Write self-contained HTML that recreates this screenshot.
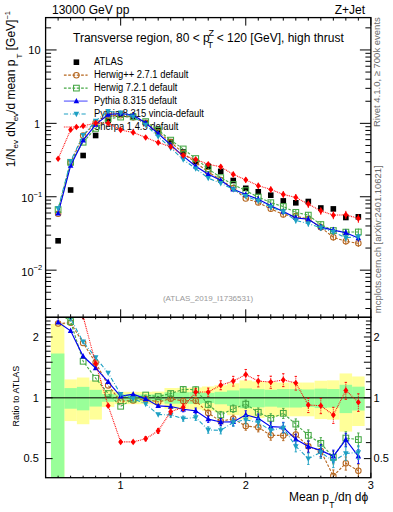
<!DOCTYPE html><html><head><meta charset="utf-8"><style>html,body{margin:0;padding:0;background:#fff;}svg{display:block;} text{font-family:"Liberation Sans",sans-serif;}</style></head><body>
<svg width="393" height="512" viewBox="0 0 393 512">
<rect x="0" y="0" width="393" height="512" fill="#fff"/>
<text x="52.00" y="13.70" font-size="12" text-anchor="start" fill="#000" >13000 GeV pp</text>
<text x="365.00" y="13.70" font-size="12" text-anchor="end" fill="#000" >Z+Jet</text>
<text x="40.60" y="54.20" font-size="11" text-anchor="end" fill="#000" >10</text>
<text x="39.90" y="127.80" font-size="10.2" text-anchor="end" fill="#000" >1</text>
<text x="33.60" y="202.10" font-size="11" text-anchor="end" fill="#000" >10</text>
<text x="33.60" y="196.60" font-size="7.5" text-anchor="start" fill="#000" >−1</text>
<text x="33.60" y="275.50" font-size="11" text-anchor="end" fill="#000" >10</text>
<text x="33.60" y="270.10" font-size="7.5" text-anchor="start" fill="#000" >−2</text>
<text x="38.80" y="340.60" font-size="11" text-anchor="end" fill="#000" >2</text>
<text x="373.60" y="340.60" font-size="11" text-anchor="start" fill="#000" >2</text>
<text x="38.80" y="401.80" font-size="11" text-anchor="end" fill="#000" >1</text>
<text x="373.60" y="401.80" font-size="11" text-anchor="start" fill="#000" >1</text>
<text x="38.80" y="462.20" font-size="11" text-anchor="end" fill="#000" >0.5</text>
<text x="373.60" y="462.20" font-size="11" text-anchor="start" fill="#000" >0.5</text>
<text x="120.66" y="489.00" font-size="11" text-anchor="middle" fill="#000" >1</text>
<text x="245.76" y="489.00" font-size="11" text-anchor="middle" fill="#000" >2</text>
<text x="370.86" y="489.00" font-size="11" text-anchor="middle" fill="#000" >3</text>
<defs><clipPath id="cm"><rect x="45.6" y="17.6" width="325.3" height="299.7"/></clipPath><clipPath id="cr"><rect x="45.6" y="317.3" width="325.3" height="160.4"/></clipPath></defs>
<g clip-path="url(#cr)"><rect x="50.98" y="323.97" width="13.39" height="155.73" fill="#ffff99"/><rect x="64.36" y="379.43" width="12.51" height="41.65" fill="#ffff99"/><rect x="76.87" y="377.53" width="12.51" height="46.69" fill="#ffff99"/><rect x="89.38" y="380.36" width="12.51" height="39.24" fill="#ffff99"/><rect x="101.89" y="389.44" width="12.51" height="17.60" fill="#ffff99"/><rect x="114.41" y="391.86" width="12.51" height="12.30" fill="#ffff99"/><rect x="126.91" y="391.86" width="12.51" height="12.30" fill="#ffff99"/><rect x="139.42" y="391.86" width="12.51" height="12.30" fill="#ffff99"/><rect x="151.94" y="391.54" width="12.51" height="13.01" fill="#ffff99"/><rect x="164.44" y="388.01" width="12.51" height="20.80" fill="#ffff99"/><rect x="176.95" y="387.86" width="12.51" height="21.16" fill="#ffff99"/><rect x="189.46" y="387.47" width="12.51" height="22.05" fill="#ffff99"/><rect x="201.97" y="386.46" width="12.51" height="24.37" fill="#ffff99"/><rect x="214.48" y="385.31" width="12.51" height="27.06" fill="#ffff99"/><rect x="226.99" y="383.28" width="12.51" height="31.93" fill="#ffff99"/><rect x="239.50" y="380.36" width="12.51" height="39.24" fill="#ffff99"/><rect x="252.02" y="381.44" width="12.51" height="36.49" fill="#ffff99"/><rect x="264.53" y="382.10" width="12.51" height="34.84" fill="#ffff99"/><rect x="277.04" y="382.54" width="12.51" height="33.75" fill="#ffff99"/><rect x="289.55" y="382.54" width="12.51" height="33.75" fill="#ffff99"/><rect x="302.06" y="382.54" width="12.51" height="33.75" fill="#ffff99"/><rect x="314.57" y="380.72" width="12.51" height="38.32" fill="#ffff99"/><rect x="327.08" y="380.36" width="12.51" height="39.24" fill="#ffff99"/><rect x="339.59" y="373.44" width="12.51" height="58.19" fill="#ffff99"/><rect x="352.10" y="376.49" width="12.51" height="49.52" fill="#ffff99"/><rect x="50.98" y="353.50" width="13.39" height="138.17" fill="#99ff99"/><rect x="64.36" y="388.09" width="12.51" height="20.62" fill="#99ff99"/><rect x="76.87" y="386.85" width="12.51" height="23.47" fill="#99ff99"/><rect x="89.38" y="389.84" width="12.51" height="16.72" fill="#99ff99"/><rect x="101.89" y="394.02" width="12.51" height="7.73" fill="#99ff99"/><rect x="114.41" y="394.53" width="12.51" height="6.67" fill="#99ff99"/><rect x="126.91" y="394.53" width="12.51" height="6.67" fill="#99ff99"/><rect x="139.42" y="394.53" width="12.51" height="6.67" fill="#99ff99"/><rect x="151.94" y="394.36" width="12.51" height="7.02" fill="#99ff99"/><rect x="164.44" y="392.28" width="12.51" height="11.42" fill="#99ff99"/><rect x="176.95" y="392.28" width="12.51" height="11.42" fill="#99ff99"/><rect x="189.46" y="392.11" width="12.51" height="11.77" fill="#99ff99"/><rect x="201.97" y="392.85" width="12.51" height="10.19" fill="#99ff99"/><rect x="214.48" y="391.78" width="12.51" height="12.48" fill="#99ff99"/><rect x="226.99" y="390.40" width="12.51" height="15.48" fill="#99ff99"/><rect x="239.50" y="388.41" width="12.51" height="19.91" fill="#99ff99"/><rect x="252.02" y="389.20" width="12.51" height="18.14" fill="#99ff99"/><rect x="264.53" y="389.76" width="12.51" height="16.90" fill="#99ff99"/><rect x="277.04" y="389.04" width="12.51" height="18.49" fill="#99ff99"/><rect x="289.55" y="389.04" width="12.51" height="18.49" fill="#99ff99"/><rect x="302.06" y="389.44" width="12.51" height="17.60" fill="#99ff99"/><rect x="314.57" y="388.64" width="12.51" height="19.38" fill="#99ff99"/><rect x="327.08" y="389.04" width="12.51" height="18.49" fill="#99ff99"/><rect x="339.59" y="384.78" width="12.51" height="28.32" fill="#99ff99"/><rect x="352.10" y="386.69" width="12.51" height="23.83" fill="#99ff99"/></g>
<line x1="45.6" y1="397.80" x2="370.9" y2="397.80" stroke="#000" stroke-opacity="0.7" stroke-width="1.4"/>
<text x="94" y="64.80" font-size="10" textLength="29.02" lengthAdjust="spacingAndGlyphs">ATLAS</text>
<text x="94" y="77.76" font-size="10" textLength="94.34" lengthAdjust="spacingAndGlyphs">Herwig++ 2.7.1 default</text>
<text x="94" y="90.72" font-size="10" textLength="83.39" lengthAdjust="spacingAndGlyphs">Herwig 7.2.1 default</text>
<text x="94" y="103.68" font-size="10" textLength="82.88" lengthAdjust="spacingAndGlyphs">Pythia 8.315 default</text>
<text x="94" y="116.64" font-size="10" textLength="109.97" lengthAdjust="spacingAndGlyphs">Pythia 8.315 vincia-default</text>
<text x="94" y="129.60" font-size="10" textLength="84.45" lengthAdjust="spacingAndGlyphs">Sherpa 1.4.5 default</text>
<rect x="73.60" y="59.40" width="5.6" height="5.6" fill="#000"/>
<line x1="63.9" y1="75.16" x2="87.6" y2="75.16" stroke="#b5651d" stroke-dasharray="2.7,1.6" stroke-width="1.1"/>
<circle cx="76.40" cy="75.16" r="2.75" fill="none" stroke="#b5651d" stroke-width="1.05"/>
<line x1="63.9" y1="88.12" x2="87.6" y2="88.12" stroke="#45a845" stroke-dasharray="2.7,1.6" stroke-width="1.1"/>
<rect x="73.55" y="85.27" width="5.7" height="5.7" fill="none" stroke="#45a845" stroke-width="1.05"/>
<line x1="63.9" y1="101.08" x2="87.6" y2="101.08" stroke="#5a5aff" stroke-width="1.15"/>
<path d="M76.40,97.88L79.20,103.28L73.60,103.28Z" fill="#0000f0"/>
<line x1="63.9" y1="114.04" x2="87.6" y2="114.04" stroke="#1ea0c3" stroke-dasharray="4.2,1.9,0.8,1.9" stroke-width="1.1"/>
<path d="M76.40,117.24L79.20,111.84L73.60,111.84Z" fill="#1ea0c3"/>
<line x1="63.9" y1="127.00" x2="87.6" y2="127.00" stroke="#ff0000" stroke-dasharray="0.9,0.9" stroke-width="1.1"/>
<path d="M76.40,123.70L78.90,127.00L76.40,130.30L73.90,127.00Z" fill="#ff0000"/>
<g clip-path="url(#cm)"><rect x="55.31" y="238.00" width="5.6" height="5.6" fill="#000"/><rect x="67.82" y="187.20" width="5.6" height="5.6" fill="#000"/><rect x="80.33" y="152.70" width="5.6" height="5.6" fill="#000"/><rect x="92.84" y="132.70" width="5.6" height="5.6" fill="#000"/><rect x="105.35" y="117.50" width="5.6" height="5.6" fill="#000"/><rect x="117.86" y="111.20" width="5.6" height="5.6" fill="#000"/><rect x="130.37" y="113.60" width="5.6" height="5.6" fill="#000"/><rect x="142.88" y="119.80" width="5.6" height="5.6" fill="#000"/><rect x="155.39" y="127.80" width="5.6" height="5.6" fill="#000"/><rect x="167.90" y="138.90" width="5.6" height="5.6" fill="#000"/><rect x="180.41" y="149.20" width="5.6" height="5.6" fill="#000"/><rect x="192.92" y="158.70" width="5.6" height="5.6" fill="#000"/><rect x="205.43" y="163.60" width="5.6" height="5.6" fill="#000"/><rect x="217.94" y="168.60" width="5.6" height="5.6" fill="#000"/><rect x="230.45" y="177.70" width="5.6" height="5.6" fill="#000"/><rect x="242.96" y="185.50" width="5.6" height="5.6" fill="#000"/><rect x="255.47" y="189.00" width="5.6" height="5.6" fill="#000"/><rect x="267.98" y="192.40" width="5.6" height="5.6" fill="#000"/><rect x="280.49" y="198.10" width="5.6" height="5.6" fill="#000"/><rect x="293.00" y="200.00" width="5.6" height="5.6" fill="#000"/><rect x="305.51" y="198.70" width="5.6" height="5.6" fill="#000"/><rect x="318.02" y="205.20" width="5.6" height="5.6" fill="#000"/><rect x="330.53" y="206.10" width="5.6" height="5.6" fill="#000"/><rect x="343.04" y="214.70" width="5.6" height="5.6" fill="#000"/><rect x="355.55" y="214.00" width="5.6" height="5.6" fill="#000"/><polyline points="58.11,213.84 70.62,162.76 83.13,135.58 95.64,122.72 108.15,115.79 120.66,115.27 133.17,117.37 145.68,123.08 158.19,132.13 170.70,142.02 183.21,153.14 195.72,162.54 208.23,171.96 220.74,179.94 233.25,188.14 245.76,198.55 258.27,202.54 270.78,208.83 283.29,214.58 295.80,216.14 308.31,219.14 320.82,227.35 333.33,237.32 345.84,241.30 358.35,243.33" fill="none" stroke="#b5651d" stroke-dasharray="2.7,1.6" stroke-width="1.1"/><circle cx="58.11" cy="213.84" r="2.75" fill="none" stroke="#b5651d" stroke-width="1.05"/><circle cx="70.62" cy="162.76" r="2.75" fill="none" stroke="#b5651d" stroke-width="1.05"/><circle cx="83.13" cy="135.58" r="2.75" fill="none" stroke="#b5651d" stroke-width="1.05"/><circle cx="95.64" cy="122.72" r="2.75" fill="none" stroke="#b5651d" stroke-width="1.05"/><circle cx="108.15" cy="115.79" r="2.75" fill="none" stroke="#b5651d" stroke-width="1.05"/><circle cx="120.66" cy="115.27" r="2.75" fill="none" stroke="#b5651d" stroke-width="1.05"/><circle cx="133.17" cy="117.37" r="2.75" fill="none" stroke="#b5651d" stroke-width="1.05"/><circle cx="145.68" cy="123.08" r="2.75" fill="none" stroke="#b5651d" stroke-width="1.05"/><circle cx="158.19" cy="132.13" r="2.75" fill="none" stroke="#b5651d" stroke-width="1.05"/><circle cx="170.70" cy="142.02" r="2.75" fill="none" stroke="#b5651d" stroke-width="1.05"/><circle cx="183.21" cy="153.14" r="2.75" fill="none" stroke="#b5651d" stroke-width="1.05"/><circle cx="195.72" cy="162.54" r="2.75" fill="none" stroke="#b5651d" stroke-width="1.05"/><circle cx="208.23" cy="171.96" r="2.75" fill="none" stroke="#b5651d" stroke-width="1.05"/><circle cx="220.74" cy="179.94" r="2.75" fill="none" stroke="#b5651d" stroke-width="1.05"/><circle cx="233.25" cy="188.14" r="2.75" fill="none" stroke="#b5651d" stroke-width="1.05"/><circle cx="245.76" cy="198.55" r="2.75" fill="none" stroke="#b5651d" stroke-width="1.05"/><line x1="258.27" y1="199.97" x2="258.27" y2="205.19" stroke="#b5651d" stroke-width="1"/><circle cx="258.27" cy="202.54" r="2.75" fill="none" stroke="#b5651d" stroke-width="1.05"/><line x1="270.78" y1="206.16" x2="270.78" y2="211.60" stroke="#b5651d" stroke-width="1"/><circle cx="270.78" cy="208.83" r="2.75" fill="none" stroke="#b5651d" stroke-width="1.05"/><line x1="283.29" y1="211.80" x2="283.29" y2="217.47" stroke="#b5651d" stroke-width="1"/><circle cx="283.29" cy="214.58" r="2.75" fill="none" stroke="#b5651d" stroke-width="1.05"/><line x1="295.80" y1="213.25" x2="295.80" y2="219.15" stroke="#b5651d" stroke-width="1"/><circle cx="295.80" cy="216.14" r="2.75" fill="none" stroke="#b5651d" stroke-width="1.05"/><line x1="308.31" y1="216.15" x2="308.31" y2="222.27" stroke="#b5651d" stroke-width="1"/><circle cx="308.31" cy="219.14" r="2.75" fill="none" stroke="#b5651d" stroke-width="1.05"/><line x1="320.82" y1="224.25" x2="320.82" y2="230.59" stroke="#b5651d" stroke-width="1"/><circle cx="320.82" cy="227.35" r="2.75" fill="none" stroke="#b5651d" stroke-width="1.05"/><line x1="333.33" y1="234.12" x2="333.33" y2="240.69" stroke="#b5651d" stroke-width="1"/><circle cx="333.33" cy="237.32" r="2.75" fill="none" stroke="#b5651d" stroke-width="1.05"/><line x1="345.84" y1="237.99" x2="345.84" y2="244.78" stroke="#b5651d" stroke-width="1"/><circle cx="345.84" cy="241.30" r="2.75" fill="none" stroke="#b5651d" stroke-width="1.05"/><line x1="358.35" y1="239.93" x2="358.35" y2="246.94" stroke="#b5651d" stroke-width="1"/><circle cx="358.35" cy="243.33" r="2.75" fill="none" stroke="#b5651d" stroke-width="1.05"/><polyline points="58.11,209.61 70.62,162.29 83.13,142.24 95.64,128.39 108.15,118.74 120.66,117.08 133.17,116.88 145.68,121.60 158.19,130.16 170.70,140.14 183.21,148.96 195.72,158.55 208.23,168.82 220.74,177.61 233.25,184.47 245.76,190.61 258.27,197.06 270.78,202.67 283.29,206.53 295.80,212.36 308.31,215.13 320.82,224.55 333.33,230.55 345.84,232.13 358.35,231.99" fill="none" stroke="#45a845" stroke-dasharray="2.7,1.6" stroke-width="1.1"/><rect x="55.26" y="206.76" width="5.7" height="5.7" fill="none" stroke="#45a845" stroke-width="1.05"/><rect x="67.77" y="159.44" width="5.7" height="5.7" fill="none" stroke="#45a845" stroke-width="1.05"/><rect x="80.28" y="139.39" width="5.7" height="5.7" fill="none" stroke="#45a845" stroke-width="1.05"/><rect x="92.79" y="125.54" width="5.7" height="5.7" fill="none" stroke="#45a845" stroke-width="1.05"/><rect x="105.30" y="115.89" width="5.7" height="5.7" fill="none" stroke="#45a845" stroke-width="1.05"/><rect x="117.81" y="114.23" width="5.7" height="5.7" fill="none" stroke="#45a845" stroke-width="1.05"/><rect x="130.32" y="114.03" width="5.7" height="5.7" fill="none" stroke="#45a845" stroke-width="1.05"/><rect x="142.83" y="118.75" width="5.7" height="5.7" fill="none" stroke="#45a845" stroke-width="1.05"/><rect x="155.34" y="127.31" width="5.7" height="5.7" fill="none" stroke="#45a845" stroke-width="1.05"/><rect x="167.85" y="137.29" width="5.7" height="5.7" fill="none" stroke="#45a845" stroke-width="1.05"/><rect x="180.36" y="146.11" width="5.7" height="5.7" fill="none" stroke="#45a845" stroke-width="1.05"/><rect x="192.87" y="155.70" width="5.7" height="5.7" fill="none" stroke="#45a845" stroke-width="1.05"/><rect x="205.38" y="165.97" width="5.7" height="5.7" fill="none" stroke="#45a845" stroke-width="1.05"/><rect x="217.89" y="174.76" width="5.7" height="5.7" fill="none" stroke="#45a845" stroke-width="1.05"/><rect x="230.40" y="181.62" width="5.7" height="5.7" fill="none" stroke="#45a845" stroke-width="1.05"/><rect x="242.91" y="187.76" width="5.7" height="5.7" fill="none" stroke="#45a845" stroke-width="1.05"/><line x1="258.27" y1="194.49" x2="258.27" y2="199.71" stroke="#45a845" stroke-width="1"/><rect x="255.42" y="194.21" width="5.7" height="5.7" fill="none" stroke="#45a845" stroke-width="1.05"/><line x1="270.78" y1="200.00" x2="270.78" y2="205.44" stroke="#45a845" stroke-width="1"/><rect x="267.93" y="199.82" width="5.7" height="5.7" fill="none" stroke="#45a845" stroke-width="1.05"/><line x1="283.29" y1="203.75" x2="283.29" y2="209.42" stroke="#45a845" stroke-width="1"/><rect x="280.44" y="203.68" width="5.7" height="5.7" fill="none" stroke="#45a845" stroke-width="1.05"/><line x1="295.80" y1="209.47" x2="295.80" y2="215.36" stroke="#45a845" stroke-width="1"/><rect x="292.95" y="209.51" width="5.7" height="5.7" fill="none" stroke="#45a845" stroke-width="1.05"/><line x1="308.31" y1="212.14" x2="308.31" y2="218.26" stroke="#45a845" stroke-width="1"/><rect x="305.46" y="212.28" width="5.7" height="5.7" fill="none" stroke="#45a845" stroke-width="1.05"/><line x1="320.82" y1="221.45" x2="320.82" y2="227.80" stroke="#45a845" stroke-width="1"/><rect x="317.97" y="221.70" width="5.7" height="5.7" fill="none" stroke="#45a845" stroke-width="1.05"/><line x1="333.33" y1="227.35" x2="333.33" y2="233.92" stroke="#45a845" stroke-width="1"/><rect x="330.48" y="227.70" width="5.7" height="5.7" fill="none" stroke="#45a845" stroke-width="1.05"/><line x1="345.84" y1="228.82" x2="345.84" y2="235.61" stroke="#45a845" stroke-width="1"/><rect x="342.99" y="229.28" width="5.7" height="5.7" fill="none" stroke="#45a845" stroke-width="1.05"/><line x1="358.35" y1="228.58" x2="358.35" y2="235.59" stroke="#45a845" stroke-width="1"/><rect x="355.50" y="229.14" width="5.7" height="5.7" fill="none" stroke="#45a845" stroke-width="1.05"/><polyline points="58.11,213.36 70.62,165.66 83.13,140.42 95.64,124.66 108.15,114.49 120.66,113.46 133.17,115.09 145.68,122.98 158.19,133.54 170.70,144.88 183.21,156.15 195.72,166.23 208.23,174.16 220.74,180.19 233.25,189.25 245.76,194.47 258.27,199.23 270.78,205.67 283.29,211.59 295.80,217.88 308.31,219.20 320.82,227.12 333.33,230.12 345.84,232.69 358.35,238.08" fill="none" stroke="#0000f0" stroke-width="1.15"/><path d="M58.11,210.16L60.91,215.56L55.31,215.56Z" fill="#0000f0"/><path d="M70.62,162.46L73.42,167.86L67.82,167.86Z" fill="#0000f0"/><path d="M83.13,137.22L85.93,142.62L80.33,142.62Z" fill="#0000f0"/><path d="M95.64,121.46L98.44,126.86L92.84,126.86Z" fill="#0000f0"/><path d="M108.15,111.29L110.95,116.69L105.35,116.69Z" fill="#0000f0"/><path d="M120.66,110.26L123.46,115.66L117.86,115.66Z" fill="#0000f0"/><path d="M133.17,111.89L135.97,117.29L130.37,117.29Z" fill="#0000f0"/><path d="M145.68,119.78L148.48,125.18L142.88,125.18Z" fill="#0000f0"/><path d="M158.19,130.34L160.99,135.74L155.39,135.74Z" fill="#0000f0"/><path d="M170.70,141.68L173.50,147.08L167.90,147.08Z" fill="#0000f0"/><path d="M183.21,152.95L186.01,158.35L180.41,158.35Z" fill="#0000f0"/><path d="M195.72,163.03L198.52,168.43L192.92,168.43Z" fill="#0000f0"/><path d="M208.23,170.96L211.03,176.36L205.43,176.36Z" fill="#0000f0"/><path d="M220.74,176.99L223.54,182.39L217.94,182.39Z" fill="#0000f0"/><path d="M233.25,186.05L236.05,191.45L230.45,191.45Z" fill="#0000f0"/><path d="M245.76,191.27L248.56,196.67L242.96,196.67Z" fill="#0000f0"/><line x1="258.27" y1="196.66" x2="258.27" y2="201.89" stroke="#0000f0" stroke-width="1"/><path d="M258.27,196.03L261.07,201.43L255.47,201.43Z" fill="#0000f0"/><line x1="270.78" y1="203.00" x2="270.78" y2="208.44" stroke="#0000f0" stroke-width="1"/><path d="M270.78,202.47L273.58,207.87L267.98,207.87Z" fill="#0000f0"/><line x1="283.29" y1="208.81" x2="283.29" y2="214.48" stroke="#0000f0" stroke-width="1"/><path d="M283.29,208.39L286.09,213.79L280.49,213.79Z" fill="#0000f0"/><line x1="295.80" y1="215.00" x2="295.80" y2="220.89" stroke="#0000f0" stroke-width="1"/><path d="M295.80,214.68L298.60,220.08L293.00,220.08Z" fill="#0000f0"/><line x1="308.31" y1="216.20" x2="308.31" y2="222.32" stroke="#0000f0" stroke-width="1"/><path d="M308.31,216.00L311.11,221.40L305.51,221.40Z" fill="#0000f0"/><line x1="320.82" y1="224.02" x2="320.82" y2="230.36" stroke="#0000f0" stroke-width="1"/><path d="M320.82,223.92L323.62,229.32L318.02,229.32Z" fill="#0000f0"/><line x1="333.33" y1="226.91" x2="333.33" y2="233.48" stroke="#0000f0" stroke-width="1"/><path d="M333.33,226.92L336.13,232.32L330.53,232.32Z" fill="#0000f0"/><line x1="345.84" y1="229.38" x2="345.84" y2="236.17" stroke="#0000f0" stroke-width="1"/><path d="M345.84,229.49L348.64,234.89L343.04,234.89Z" fill="#0000f0"/><line x1="358.35" y1="234.67" x2="358.35" y2="241.68" stroke="#0000f0" stroke-width="1"/><path d="M358.35,234.88L361.15,240.28L355.55,240.28Z" fill="#0000f0"/><polyline points="58.11,208.55 70.62,161.18 83.13,135.16 95.64,120.88 108.15,111.26 120.66,112.69 133.17,116.72 145.68,124.88 158.19,136.66 170.70,147.95 183.21,159.55 195.72,168.65 208.23,178.09 220.74,183.23 233.25,189.46 245.76,196.26 258.27,200.80 270.78,207.03 283.29,211.82 295.80,220.44 308.31,223.60 320.82,227.82 333.33,231.90 345.84,237.74 358.35,236.62" fill="none" stroke="#1ea0c3" stroke-dasharray="4.2,1.9,0.8,1.9" stroke-width="1.1"/><path d="M58.11,211.75L60.91,206.35L55.31,206.35Z" fill="#1ea0c3"/><path d="M70.62,164.38L73.42,158.98L67.82,158.98Z" fill="#1ea0c3"/><path d="M83.13,138.36L85.93,132.96L80.33,132.96Z" fill="#1ea0c3"/><path d="M95.64,124.08L98.44,118.68L92.84,118.68Z" fill="#1ea0c3"/><path d="M108.15,114.46L110.95,109.06L105.35,109.06Z" fill="#1ea0c3"/><path d="M120.66,115.89L123.46,110.49L117.86,110.49Z" fill="#1ea0c3"/><path d="M133.17,119.92L135.97,114.52L130.37,114.52Z" fill="#1ea0c3"/><path d="M145.68,128.08L148.48,122.68L142.88,122.68Z" fill="#1ea0c3"/><path d="M158.19,139.86L160.99,134.46L155.39,134.46Z" fill="#1ea0c3"/><path d="M170.70,151.15L173.50,145.75L167.90,145.75Z" fill="#1ea0c3"/><path d="M183.21,162.75L186.01,157.35L180.41,157.35Z" fill="#1ea0c3"/><path d="M195.72,171.85L198.52,166.45L192.92,166.45Z" fill="#1ea0c3"/><path d="M208.23,181.29L211.03,175.89L205.43,175.89Z" fill="#1ea0c3"/><path d="M220.74,186.43L223.54,181.03L217.94,181.03Z" fill="#1ea0c3"/><path d="M233.25,192.66L236.05,187.26L230.45,187.26Z" fill="#1ea0c3"/><path d="M245.76,199.46L248.56,194.06L242.96,194.06Z" fill="#1ea0c3"/><line x1="258.27" y1="198.23" x2="258.27" y2="203.45" stroke="#1ea0c3" stroke-width="1"/><path d="M258.27,204.00L261.07,198.60L255.47,198.60Z" fill="#1ea0c3"/><line x1="270.78" y1="204.35" x2="270.78" y2="209.80" stroke="#1ea0c3" stroke-width="1"/><path d="M270.78,210.23L273.58,204.83L267.98,204.83Z" fill="#1ea0c3"/><line x1="283.29" y1="209.04" x2="283.29" y2="214.71" stroke="#1ea0c3" stroke-width="1"/><path d="M283.29,215.02L286.09,209.62L280.49,209.62Z" fill="#1ea0c3"/><line x1="295.80" y1="217.55" x2="295.80" y2="223.45" stroke="#1ea0c3" stroke-width="1"/><path d="M295.80,223.64L298.60,218.24L293.00,218.24Z" fill="#1ea0c3"/><line x1="308.31" y1="220.60" x2="308.31" y2="226.72" stroke="#1ea0c3" stroke-width="1"/><path d="M308.31,226.80L311.11,221.40L305.51,221.40Z" fill="#1ea0c3"/><line x1="320.82" y1="224.72" x2="320.82" y2="231.06" stroke="#1ea0c3" stroke-width="1"/><path d="M320.82,231.02L323.62,225.62L318.02,225.62Z" fill="#1ea0c3"/><line x1="333.33" y1="228.70" x2="333.33" y2="235.27" stroke="#1ea0c3" stroke-width="1"/><path d="M333.33,235.10L336.13,229.70L330.53,229.70Z" fill="#1ea0c3"/><line x1="345.84" y1="234.43" x2="345.84" y2="241.22" stroke="#1ea0c3" stroke-width="1"/><path d="M345.84,240.94L348.64,235.54L343.04,235.54Z" fill="#1ea0c3"/><line x1="358.35" y1="233.21" x2="358.35" y2="240.23" stroke="#1ea0c3" stroke-width="1"/><path d="M358.35,239.82L361.15,234.42L355.55,234.42Z" fill="#1ea0c3"/><polyline points="58.11,158.79 70.62,129.75 83.13,125.91 95.64,123.00 108.15,123.17 120.66,130.02 133.17,132.42 145.68,137.48 158.19,142.61 170.70,146.77 183.21,155.43 195.72,159.40 208.23,164.30 220.74,166.81 233.25,174.42 245.76,179.86 258.27,185.72 270.78,189.47 283.29,194.40 295.80,197.42 308.31,204.12 320.82,210.87 333.33,215.15 345.84,214.81 358.35,218.40" fill="none" stroke="#ff0000" stroke-dasharray="0.9,0.9" stroke-width="1.1"/><path d="M58.11,155.49L60.61,158.79L58.11,162.09L55.61,158.79Z" fill="#ff0000"/><path d="M70.62,126.45L73.12,129.75L70.62,133.05L68.12,129.75Z" fill="#ff0000"/><path d="M83.13,122.61L85.63,125.91L83.13,129.21L80.63,125.91Z" fill="#ff0000"/><path d="M95.64,119.70L98.14,123.00L95.64,126.30L93.14,123.00Z" fill="#ff0000"/><path d="M108.15,119.87L110.65,123.17L108.15,126.47L105.65,123.17Z" fill="#ff0000"/><path d="M120.66,126.72L123.16,130.02L120.66,133.32L118.16,130.02Z" fill="#ff0000"/><path d="M133.17,129.12L135.67,132.42L133.17,135.72L130.67,132.42Z" fill="#ff0000"/><path d="M145.68,134.18L148.18,137.48L145.68,140.78L143.18,137.48Z" fill="#ff0000"/><path d="M158.19,139.31L160.69,142.61L158.19,145.91L155.69,142.61Z" fill="#ff0000"/><path d="M170.70,143.47L173.20,146.77L170.70,150.07L168.20,146.77Z" fill="#ff0000"/><path d="M183.21,152.13L185.71,155.43L183.21,158.73L180.71,155.43Z" fill="#ff0000"/><path d="M195.72,156.10L198.22,159.40L195.72,162.70L193.22,159.40Z" fill="#ff0000"/><path d="M208.23,161.00L210.73,164.30L208.23,167.60L205.73,164.30Z" fill="#ff0000"/><line x1="220.74" y1="164.22" x2="220.74" y2="169.48" stroke="#ff0000" stroke-width="1"/><path d="M220.74,163.51L223.24,166.81L220.74,170.11L218.24,166.81Z" fill="#ff0000"/><line x1="233.25" y1="171.70" x2="233.25" y2="177.24" stroke="#ff0000" stroke-width="1"/><path d="M233.25,171.12L235.75,174.42L233.25,177.72L230.75,174.42Z" fill="#ff0000"/><line x1="245.76" y1="177.01" x2="245.76" y2="182.84" stroke="#ff0000" stroke-width="1"/><path d="M245.76,176.56L248.26,179.86L245.76,183.16L243.26,179.86Z" fill="#ff0000"/><line x1="258.27" y1="182.73" x2="258.27" y2="188.85" stroke="#ff0000" stroke-width="1"/><path d="M258.27,182.42L260.77,185.72L258.27,189.02L255.77,185.72Z" fill="#ff0000"/><line x1="270.78" y1="186.34" x2="270.78" y2="192.75" stroke="#ff0000" stroke-width="1"/><path d="M270.78,186.17L273.28,189.47L270.78,192.77L268.28,189.47Z" fill="#ff0000"/><line x1="283.29" y1="191.14" x2="283.29" y2="197.84" stroke="#ff0000" stroke-width="1"/><path d="M283.29,191.10L285.79,194.40L283.29,197.70L280.79,194.40Z" fill="#ff0000"/><line x1="295.80" y1="194.02" x2="295.80" y2="201.00" stroke="#ff0000" stroke-width="1"/><path d="M295.80,194.12L298.30,197.42L295.80,200.72L293.30,197.42Z" fill="#ff0000"/><line x1="308.31" y1="200.60" x2="308.31" y2="207.87" stroke="#ff0000" stroke-width="1"/><path d="M308.31,200.82L310.81,204.12L308.31,207.42L305.81,204.12Z" fill="#ff0000"/><line x1="320.82" y1="207.21" x2="320.82" y2="214.77" stroke="#ff0000" stroke-width="1"/><path d="M320.82,207.57L323.32,210.87L320.82,214.17L318.32,210.87Z" fill="#ff0000"/><line x1="333.33" y1="211.36" x2="333.33" y2="219.21" stroke="#ff0000" stroke-width="1"/><path d="M333.33,211.85L335.83,215.15L333.33,218.45L330.83,215.15Z" fill="#ff0000"/><line x1="345.84" y1="210.89" x2="345.84" y2="219.03" stroke="#ff0000" stroke-width="1"/><path d="M345.84,211.51L348.34,214.81L345.84,218.11L343.34,214.81Z" fill="#ff0000"/><line x1="358.35" y1="214.35" x2="358.35" y2="222.78" stroke="#ff0000" stroke-width="1"/><path d="M358.35,215.10L360.85,218.40L358.35,221.70L355.85,218.40Z" fill="#ff0000"/></g>
<g clip-path="url(#cr)"><polyline points="58.11,323.59 70.62,322.84 83.13,342.98 95.64,362.64 108.15,385.39 120.66,401.29 133.17,400.47 145.68,399.13 158.19,402.02 170.70,398.68 183.21,400.93 195.72,400.65 208.23,413.10 220.74,421.30 233.25,418.81 245.76,426.01 258.27,427.35 270.78,435.32 283.29,435.46 295.80,434.52 308.31,446.35 320.82,451.05 333.33,476.02 345.84,463.29 358.35,470.83" fill="none" stroke="#b5651d" stroke-dasharray="2.7,1.6" stroke-width="1.1"/><circle cx="58.11" cy="323.59" r="2.75" fill="none" stroke="#b5651d" stroke-width="1.05"/><circle cx="70.62" cy="322.84" r="2.75" fill="none" stroke="#b5651d" stroke-width="1.05"/><circle cx="83.13" cy="342.98" r="2.75" fill="none" stroke="#b5651d" stroke-width="1.05"/><circle cx="95.64" cy="362.64" r="2.75" fill="none" stroke="#b5651d" stroke-width="1.05"/><circle cx="108.15" cy="385.39" r="2.75" fill="none" stroke="#b5651d" stroke-width="1.05"/><circle cx="120.66" cy="401.29" r="2.75" fill="none" stroke="#b5651d" stroke-width="1.05"/><circle cx="133.17" cy="400.47" r="2.75" fill="none" stroke="#b5651d" stroke-width="1.05"/><circle cx="145.68" cy="399.13" r="2.75" fill="none" stroke="#b5651d" stroke-width="1.05"/><circle cx="158.19" cy="402.02" r="2.75" fill="none" stroke="#b5651d" stroke-width="1.05"/><line x1="170.70" y1="396.43" x2="170.70" y2="400.99" stroke="#b5651d" stroke-width="1" /><line x1="169.50" y1="396.43" x2="171.90" y2="396.43" stroke="#b5651d" stroke-width="0.9"/><line x1="169.50" y1="400.99" x2="171.90" y2="400.99" stroke="#b5651d" stroke-width="0.9"/><circle cx="170.70" cy="398.68" r="2.75" fill="none" stroke="#b5651d" stroke-width="1.05"/><line x1="183.21" y1="398.37" x2="183.21" y2="403.55" stroke="#b5651d" stroke-width="1" /><line x1="182.01" y1="398.37" x2="184.41" y2="398.37" stroke="#b5651d" stroke-width="0.9"/><line x1="182.01" y1="403.55" x2="184.41" y2="403.55" stroke="#b5651d" stroke-width="0.9"/><circle cx="183.21" cy="400.93" r="2.75" fill="none" stroke="#b5651d" stroke-width="1.05"/><line x1="195.72" y1="397.80" x2="195.72" y2="403.60" stroke="#b5651d" stroke-width="1" /><line x1="194.52" y1="397.80" x2="196.92" y2="397.80" stroke="#b5651d" stroke-width="0.9"/><line x1="194.52" y1="403.60" x2="196.92" y2="403.60" stroke="#b5651d" stroke-width="0.9"/><circle cx="195.72" cy="400.65" r="2.75" fill="none" stroke="#b5651d" stroke-width="1.05"/><line x1="208.23" y1="409.95" x2="208.23" y2="416.36" stroke="#b5651d" stroke-width="1" /><line x1="207.03" y1="409.95" x2="209.43" y2="409.95" stroke="#b5651d" stroke-width="0.9"/><line x1="207.03" y1="416.36" x2="209.43" y2="416.36" stroke="#b5651d" stroke-width="0.9"/><circle cx="208.23" cy="413.10" r="2.75" fill="none" stroke="#b5651d" stroke-width="1.05"/><line x1="220.74" y1="417.86" x2="220.74" y2="424.88" stroke="#b5651d" stroke-width="1" /><line x1="219.54" y1="417.86" x2="221.94" y2="417.86" stroke="#b5651d" stroke-width="0.9"/><line x1="219.54" y1="424.88" x2="221.94" y2="424.88" stroke="#b5651d" stroke-width="0.9"/><circle cx="220.74" cy="421.30" r="2.75" fill="none" stroke="#b5651d" stroke-width="1.05"/><line x1="233.25" y1="415.08" x2="233.25" y2="422.71" stroke="#b5651d" stroke-width="1" /><line x1="232.05" y1="415.08" x2="234.45" y2="415.08" stroke="#b5651d" stroke-width="0.9"/><line x1="232.05" y1="422.71" x2="234.45" y2="422.71" stroke="#b5651d" stroke-width="0.9"/><circle cx="233.25" cy="418.81" r="2.75" fill="none" stroke="#b5651d" stroke-width="1.05"/><line x1="245.76" y1="421.98" x2="245.76" y2="430.23" stroke="#b5651d" stroke-width="1" /><line x1="244.56" y1="421.98" x2="246.96" y2="421.98" stroke="#b5651d" stroke-width="0.9"/><line x1="244.56" y1="430.23" x2="246.96" y2="430.23" stroke="#b5651d" stroke-width="0.9"/><circle cx="245.76" cy="426.01" r="2.75" fill="none" stroke="#b5651d" stroke-width="1.05"/><line x1="258.27" y1="423.03" x2="258.27" y2="431.90" stroke="#b5651d" stroke-width="1" /><line x1="257.07" y1="423.03" x2="259.47" y2="423.03" stroke="#b5651d" stroke-width="0.9"/><line x1="257.07" y1="431.90" x2="259.47" y2="431.90" stroke="#b5651d" stroke-width="0.9"/><circle cx="258.27" cy="427.35" r="2.75" fill="none" stroke="#b5651d" stroke-width="1.05"/><line x1="270.78" y1="430.71" x2="270.78" y2="440.19" stroke="#b5651d" stroke-width="1" /><line x1="269.58" y1="430.71" x2="271.98" y2="430.71" stroke="#b5651d" stroke-width="0.9"/><line x1="269.58" y1="440.19" x2="271.98" y2="440.19" stroke="#b5651d" stroke-width="0.9"/><circle cx="270.78" cy="435.32" r="2.75" fill="none" stroke="#b5651d" stroke-width="1.05"/><line x1="283.29" y1="430.55" x2="283.29" y2="440.65" stroke="#b5651d" stroke-width="1" /><line x1="282.09" y1="430.55" x2="284.49" y2="430.55" stroke="#b5651d" stroke-width="0.9"/><line x1="282.09" y1="440.65" x2="284.49" y2="440.65" stroke="#b5651d" stroke-width="0.9"/><circle cx="283.29" cy="435.46" r="2.75" fill="none" stroke="#b5651d" stroke-width="1.05"/><line x1="295.80" y1="429.32" x2="295.80" y2="440.04" stroke="#b5651d" stroke-width="1" /><line x1="294.60" y1="429.32" x2="297.00" y2="429.32" stroke="#b5651d" stroke-width="0.9"/><line x1="294.60" y1="440.04" x2="297.00" y2="440.04" stroke="#b5651d" stroke-width="0.9"/><circle cx="295.80" cy="434.52" r="2.75" fill="none" stroke="#b5651d" stroke-width="1.05"/><line x1="308.31" y1="440.86" x2="308.31" y2="452.20" stroke="#b5651d" stroke-width="1" /><line x1="307.11" y1="440.86" x2="309.51" y2="440.86" stroke="#b5651d" stroke-width="0.9"/><line x1="307.11" y1="452.20" x2="309.51" y2="452.20" stroke="#b5651d" stroke-width="0.9"/><circle cx="308.31" cy="446.35" r="2.75" fill="none" stroke="#b5651d" stroke-width="1.05"/><line x1="320.82" y1="445.28" x2="320.82" y2="457.23" stroke="#b5651d" stroke-width="1" /><line x1="319.62" y1="445.28" x2="322.02" y2="445.28" stroke="#b5651d" stroke-width="0.9"/><line x1="319.62" y1="457.23" x2="322.02" y2="457.23" stroke="#b5651d" stroke-width="0.9"/><circle cx="320.82" cy="451.05" r="2.75" fill="none" stroke="#b5651d" stroke-width="1.05"/><line x1="333.33" y1="469.96" x2="333.33" y2="482.53" stroke="#b5651d" stroke-width="1" /><line x1="332.13" y1="469.96" x2="334.53" y2="469.96" stroke="#b5651d" stroke-width="0.9"/><line x1="332.13" y1="482.53" x2="334.53" y2="482.53" stroke="#b5651d" stroke-width="0.9"/><circle cx="333.33" cy="476.02" r="2.75" fill="none" stroke="#b5651d" stroke-width="1.05"/><line x1="345.84" y1="456.95" x2="345.84" y2="470.13" stroke="#b5651d" stroke-width="1" /><line x1="344.64" y1="456.95" x2="347.04" y2="456.95" stroke="#b5651d" stroke-width="0.9"/><line x1="344.64" y1="470.13" x2="347.04" y2="470.13" stroke="#b5651d" stroke-width="0.9"/><circle cx="345.84" cy="463.29" r="2.75" fill="none" stroke="#b5651d" stroke-width="1.05"/><line x1="358.35" y1="464.20" x2="358.35" y2="478.00" stroke="#b5651d" stroke-width="1" /><line x1="357.15" y1="464.20" x2="359.55" y2="464.20" stroke="#b5651d" stroke-width="0.9"/><line x1="357.15" y1="478.00" x2="359.55" y2="478.00" stroke="#b5651d" stroke-width="0.9"/><circle cx="358.35" cy="470.83" r="2.75" fill="none" stroke="#b5651d" stroke-width="1.05"/><polyline points="58.11,311.97 70.62,321.55 83.13,361.30 95.64,378.22 108.15,393.52 120.66,406.27 133.17,399.13 145.68,395.04 158.19,396.58 170.70,393.52 183.21,389.44 195.72,389.68 208.23,404.45 220.74,414.89 233.25,408.72 245.76,404.17 258.27,412.26 270.78,418.37 283.29,413.30 295.80,424.10 308.31,435.32 320.82,443.35 333.33,457.39 345.84,438.06 358.35,439.60" fill="none" stroke="#45a845" stroke-dasharray="2.7,1.6" stroke-width="1.1"/><rect x="55.26" y="309.12" width="5.7" height="5.7" fill="none" stroke="#45a845" stroke-width="1.05"/><rect x="67.77" y="318.70" width="5.7" height="5.7" fill="none" stroke="#45a845" stroke-width="1.05"/><rect x="80.28" y="358.45" width="5.7" height="5.7" fill="none" stroke="#45a845" stroke-width="1.05"/><rect x="92.79" y="375.37" width="5.7" height="5.7" fill="none" stroke="#45a845" stroke-width="1.05"/><rect x="105.30" y="390.67" width="5.7" height="5.7" fill="none" stroke="#45a845" stroke-width="1.05"/><rect x="117.81" y="403.42" width="5.7" height="5.7" fill="none" stroke="#45a845" stroke-width="1.05"/><rect x="130.32" y="396.28" width="5.7" height="5.7" fill="none" stroke="#45a845" stroke-width="1.05"/><rect x="142.83" y="392.19" width="5.7" height="5.7" fill="none" stroke="#45a845" stroke-width="1.05"/><rect x="155.34" y="393.73" width="5.7" height="5.7" fill="none" stroke="#45a845" stroke-width="1.05"/><line x1="170.70" y1="391.27" x2="170.70" y2="395.83" stroke="#45a845" stroke-width="1" /><line x1="169.50" y1="391.27" x2="171.90" y2="391.27" stroke="#45a845" stroke-width="0.9"/><line x1="169.50" y1="395.83" x2="171.90" y2="395.83" stroke="#45a845" stroke-width="0.9"/><rect x="167.85" y="390.67" width="5.7" height="5.7" fill="none" stroke="#45a845" stroke-width="1.05"/><line x1="183.21" y1="386.89" x2="183.21" y2="392.07" stroke="#45a845" stroke-width="1" /><line x1="182.01" y1="386.89" x2="184.41" y2="386.89" stroke="#45a845" stroke-width="0.9"/><line x1="182.01" y1="392.07" x2="184.41" y2="392.07" stroke="#45a845" stroke-width="0.9"/><rect x="180.36" y="386.59" width="5.7" height="5.7" fill="none" stroke="#45a845" stroke-width="1.05"/><line x1="195.72" y1="386.83" x2="195.72" y2="392.62" stroke="#45a845" stroke-width="1" /><line x1="194.52" y1="386.83" x2="196.92" y2="386.83" stroke="#45a845" stroke-width="0.9"/><line x1="194.52" y1="392.62" x2="196.92" y2="392.62" stroke="#45a845" stroke-width="0.9"/><rect x="192.87" y="386.83" width="5.7" height="5.7" fill="none" stroke="#45a845" stroke-width="1.05"/><line x1="208.23" y1="401.30" x2="208.23" y2="407.71" stroke="#45a845" stroke-width="1" /><line x1="207.03" y1="401.30" x2="209.43" y2="401.30" stroke="#45a845" stroke-width="0.9"/><line x1="207.03" y1="407.71" x2="209.43" y2="407.71" stroke="#45a845" stroke-width="0.9"/><rect x="205.38" y="401.60" width="5.7" height="5.7" fill="none" stroke="#45a845" stroke-width="1.05"/><line x1="220.74" y1="411.45" x2="220.74" y2="418.47" stroke="#45a845" stroke-width="1" /><line x1="219.54" y1="411.45" x2="221.94" y2="411.45" stroke="#45a845" stroke-width="0.9"/><line x1="219.54" y1="418.47" x2="221.94" y2="418.47" stroke="#45a845" stroke-width="0.9"/><rect x="217.89" y="412.04" width="5.7" height="5.7" fill="none" stroke="#45a845" stroke-width="1.05"/><line x1="233.25" y1="404.98" x2="233.25" y2="412.62" stroke="#45a845" stroke-width="1" /><line x1="232.05" y1="404.98" x2="234.45" y2="404.98" stroke="#45a845" stroke-width="0.9"/><line x1="232.05" y1="412.62" x2="234.45" y2="412.62" stroke="#45a845" stroke-width="0.9"/><rect x="230.40" y="405.87" width="5.7" height="5.7" fill="none" stroke="#45a845" stroke-width="1.05"/><line x1="245.76" y1="400.14" x2="245.76" y2="408.39" stroke="#45a845" stroke-width="1" /><line x1="244.56" y1="400.14" x2="246.96" y2="400.14" stroke="#45a845" stroke-width="0.9"/><line x1="244.56" y1="408.39" x2="246.96" y2="408.39" stroke="#45a845" stroke-width="0.9"/><rect x="242.91" y="401.32" width="5.7" height="5.7" fill="none" stroke="#45a845" stroke-width="1.05"/><line x1="258.27" y1="407.94" x2="258.27" y2="416.81" stroke="#45a845" stroke-width="1" /><line x1="257.07" y1="407.94" x2="259.47" y2="407.94" stroke="#45a845" stroke-width="0.9"/><line x1="257.07" y1="416.81" x2="259.47" y2="416.81" stroke="#45a845" stroke-width="0.9"/><rect x="255.42" y="409.41" width="5.7" height="5.7" fill="none" stroke="#45a845" stroke-width="1.05"/><line x1="270.78" y1="413.75" x2="270.78" y2="423.24" stroke="#45a845" stroke-width="1" /><line x1="269.58" y1="413.75" x2="271.98" y2="413.75" stroke="#45a845" stroke-width="0.9"/><line x1="269.58" y1="423.24" x2="271.98" y2="423.24" stroke="#45a845" stroke-width="0.9"/><rect x="267.93" y="415.52" width="5.7" height="5.7" fill="none" stroke="#45a845" stroke-width="1.05"/><line x1="283.29" y1="408.40" x2="283.29" y2="418.50" stroke="#45a845" stroke-width="1" /><line x1="282.09" y1="408.40" x2="284.49" y2="408.40" stroke="#45a845" stroke-width="0.9"/><line x1="282.09" y1="418.50" x2="284.49" y2="418.50" stroke="#45a845" stroke-width="0.9"/><rect x="280.44" y="410.45" width="5.7" height="5.7" fill="none" stroke="#45a845" stroke-width="1.05"/><line x1="295.80" y1="418.90" x2="295.80" y2="429.62" stroke="#45a845" stroke-width="1" /><line x1="294.60" y1="418.90" x2="297.00" y2="418.90" stroke="#45a845" stroke-width="0.9"/><line x1="294.60" y1="429.62" x2="297.00" y2="429.62" stroke="#45a845" stroke-width="0.9"/><rect x="292.95" y="421.25" width="5.7" height="5.7" fill="none" stroke="#45a845" stroke-width="1.05"/><line x1="308.31" y1="429.84" x2="308.31" y2="441.17" stroke="#45a845" stroke-width="1" /><line x1="307.11" y1="429.84" x2="309.51" y2="429.84" stroke="#45a845" stroke-width="0.9"/><line x1="307.11" y1="441.17" x2="309.51" y2="441.17" stroke="#45a845" stroke-width="0.9"/><rect x="305.46" y="432.47" width="5.7" height="5.7" fill="none" stroke="#45a845" stroke-width="1.05"/><line x1="320.82" y1="437.58" x2="320.82" y2="449.53" stroke="#45a845" stroke-width="1" /><line x1="319.62" y1="437.58" x2="322.02" y2="437.58" stroke="#45a845" stroke-width="0.9"/><line x1="319.62" y1="449.53" x2="322.02" y2="449.53" stroke="#45a845" stroke-width="0.9"/><rect x="317.97" y="440.50" width="5.7" height="5.7" fill="none" stroke="#45a845" stroke-width="1.05"/><line x1="333.33" y1="451.33" x2="333.33" y2="463.90" stroke="#45a845" stroke-width="1" /><line x1="332.13" y1="451.33" x2="334.53" y2="451.33" stroke="#45a845" stroke-width="0.9"/><line x1="332.13" y1="463.90" x2="334.53" y2="463.90" stroke="#45a845" stroke-width="0.9"/><rect x="330.48" y="454.54" width="5.7" height="5.7" fill="none" stroke="#45a845" stroke-width="1.05"/><line x1="345.84" y1="431.71" x2="345.84" y2="444.89" stroke="#45a845" stroke-width="1" /><line x1="344.64" y1="431.71" x2="347.04" y2="431.71" stroke="#45a845" stroke-width="0.9"/><line x1="344.64" y1="444.89" x2="347.04" y2="444.89" stroke="#45a845" stroke-width="0.9"/><rect x="342.99" y="435.21" width="5.7" height="5.7" fill="none" stroke="#45a845" stroke-width="1.05"/><line x1="358.35" y1="432.97" x2="358.35" y2="446.77" stroke="#45a845" stroke-width="1" /><line x1="357.15" y1="432.97" x2="359.55" y2="432.97" stroke="#45a845" stroke-width="0.9"/><line x1="357.15" y1="446.77" x2="359.55" y2="446.77" stroke="#45a845" stroke-width="0.9"/><rect x="355.50" y="436.75" width="5.7" height="5.7" fill="none" stroke="#45a845" stroke-width="1.05"/><polyline points="58.11,322.29 70.62,330.81 83.13,356.29 95.64,367.97 108.15,381.81 120.66,396.32 133.17,394.19 145.68,398.86 158.19,405.88 170.70,406.56 183.21,409.21 195.72,410.83 208.23,419.15 220.74,421.99 233.25,421.88 245.76,414.78 258.27,418.26 270.78,426.62 283.29,427.23 295.80,439.31 308.31,446.50 320.82,450.41 333.33,456.19 345.84,439.60 358.35,456.36" fill="none" stroke="#0000f0" stroke-width="1.15"/><path d="M58.11,319.09L60.91,324.49L55.31,324.49Z" fill="#0000f0"/><path d="M70.62,327.61L73.42,333.01L67.82,333.01Z" fill="#0000f0"/><path d="M83.13,353.09L85.93,358.49L80.33,358.49Z" fill="#0000f0"/><path d="M95.64,364.77L98.44,370.17L92.84,370.17Z" fill="#0000f0"/><path d="M108.15,378.61L110.95,384.01L105.35,384.01Z" fill="#0000f0"/><path d="M120.66,393.12L123.46,398.52L117.86,398.52Z" fill="#0000f0"/><path d="M133.17,390.99L135.97,396.39L130.37,396.39Z" fill="#0000f0"/><path d="M145.68,395.66L148.48,401.06L142.88,401.06Z" fill="#0000f0"/><path d="M158.19,402.68L160.99,408.08L155.39,408.08Z" fill="#0000f0"/><line x1="170.70" y1="404.31" x2="170.70" y2="408.87" stroke="#0000f0" stroke-width="1" /><line x1="169.50" y1="404.31" x2="171.90" y2="404.31" stroke="#0000f0" stroke-width="0.9"/><line x1="169.50" y1="408.87" x2="171.90" y2="408.87" stroke="#0000f0" stroke-width="0.9"/><path d="M170.70,403.36L173.50,408.76L167.90,408.76Z" fill="#0000f0"/><line x1="183.21" y1="406.66" x2="183.21" y2="411.84" stroke="#0000f0" stroke-width="1" /><line x1="182.01" y1="406.66" x2="184.41" y2="406.66" stroke="#0000f0" stroke-width="0.9"/><line x1="182.01" y1="411.84" x2="184.41" y2="411.84" stroke="#0000f0" stroke-width="0.9"/><path d="M183.21,406.01L186.01,411.41L180.41,411.41Z" fill="#0000f0"/><line x1="195.72" y1="407.98" x2="195.72" y2="413.77" stroke="#0000f0" stroke-width="1" /><line x1="194.52" y1="407.98" x2="196.92" y2="407.98" stroke="#0000f0" stroke-width="0.9"/><line x1="194.52" y1="413.77" x2="196.92" y2="413.77" stroke="#0000f0" stroke-width="0.9"/><path d="M195.72,407.63L198.52,413.03L192.92,413.03Z" fill="#0000f0"/><line x1="208.23" y1="416.00" x2="208.23" y2="422.41" stroke="#0000f0" stroke-width="1" /><line x1="207.03" y1="416.00" x2="209.43" y2="416.00" stroke="#0000f0" stroke-width="0.9"/><line x1="207.03" y1="422.41" x2="209.43" y2="422.41" stroke="#0000f0" stroke-width="0.9"/><path d="M208.23,415.95L211.03,421.35L205.43,421.35Z" fill="#0000f0"/><line x1="220.74" y1="418.55" x2="220.74" y2="425.57" stroke="#0000f0" stroke-width="1" /><line x1="219.54" y1="418.55" x2="221.94" y2="418.55" stroke="#0000f0" stroke-width="0.9"/><line x1="219.54" y1="425.57" x2="221.94" y2="425.57" stroke="#0000f0" stroke-width="0.9"/><path d="M220.74,418.79L223.54,424.19L217.94,424.19Z" fill="#0000f0"/><line x1="233.25" y1="418.14" x2="233.25" y2="425.78" stroke="#0000f0" stroke-width="1" /><line x1="232.05" y1="418.14" x2="234.45" y2="418.14" stroke="#0000f0" stroke-width="0.9"/><line x1="232.05" y1="425.78" x2="234.45" y2="425.78" stroke="#0000f0" stroke-width="0.9"/><path d="M233.25,418.68L236.05,424.08L230.45,424.08Z" fill="#0000f0"/><line x1="245.76" y1="410.75" x2="245.76" y2="419.01" stroke="#0000f0" stroke-width="1" /><line x1="244.56" y1="410.75" x2="246.96" y2="410.75" stroke="#0000f0" stroke-width="0.9"/><line x1="244.56" y1="419.01" x2="246.96" y2="419.01" stroke="#0000f0" stroke-width="0.9"/><path d="M245.76,411.58L248.56,416.98L242.96,416.98Z" fill="#0000f0"/><line x1="258.27" y1="413.94" x2="258.27" y2="422.80" stroke="#0000f0" stroke-width="1" /><line x1="257.07" y1="413.94" x2="259.47" y2="413.94" stroke="#0000f0" stroke-width="0.9"/><line x1="257.07" y1="422.80" x2="259.47" y2="422.80" stroke="#0000f0" stroke-width="0.9"/><path d="M258.27,415.06L261.07,420.46L255.47,420.46Z" fill="#0000f0"/><line x1="270.78" y1="422.01" x2="270.78" y2="431.49" stroke="#0000f0" stroke-width="1" /><line x1="269.58" y1="422.01" x2="271.98" y2="422.01" stroke="#0000f0" stroke-width="0.9"/><line x1="269.58" y1="431.49" x2="271.98" y2="431.49" stroke="#0000f0" stroke-width="0.9"/><path d="M270.78,423.42L273.58,428.82L267.98,428.82Z" fill="#0000f0"/><line x1="283.29" y1="422.33" x2="283.29" y2="432.43" stroke="#0000f0" stroke-width="1" /><line x1="282.09" y1="422.33" x2="284.49" y2="422.33" stroke="#0000f0" stroke-width="0.9"/><line x1="282.09" y1="432.43" x2="284.49" y2="432.43" stroke="#0000f0" stroke-width="0.9"/><path d="M283.29,424.03L286.09,429.43L280.49,429.43Z" fill="#0000f0"/><line x1="295.80" y1="434.12" x2="295.80" y2="444.83" stroke="#0000f0" stroke-width="1" /><line x1="294.60" y1="434.12" x2="297.00" y2="434.12" stroke="#0000f0" stroke-width="0.9"/><line x1="294.60" y1="444.83" x2="297.00" y2="444.83" stroke="#0000f0" stroke-width="0.9"/><path d="M295.80,436.11L298.60,441.51L293.00,441.51Z" fill="#0000f0"/><line x1="308.31" y1="441.02" x2="308.31" y2="452.35" stroke="#0000f0" stroke-width="1" /><line x1="307.11" y1="441.02" x2="309.51" y2="441.02" stroke="#0000f0" stroke-width="0.9"/><line x1="307.11" y1="452.35" x2="309.51" y2="452.35" stroke="#0000f0" stroke-width="0.9"/><path d="M308.31,443.30L311.11,448.70L305.51,448.70Z" fill="#0000f0"/><line x1="320.82" y1="444.63" x2="320.82" y2="456.58" stroke="#0000f0" stroke-width="1" /><line x1="319.62" y1="444.63" x2="322.02" y2="444.63" stroke="#0000f0" stroke-width="0.9"/><line x1="319.62" y1="456.58" x2="322.02" y2="456.58" stroke="#0000f0" stroke-width="0.9"/><path d="M320.82,447.21L323.62,452.61L318.02,452.61Z" fill="#0000f0"/><line x1="333.33" y1="450.13" x2="333.33" y2="462.69" stroke="#0000f0" stroke-width="1" /><line x1="332.13" y1="450.13" x2="334.53" y2="450.13" stroke="#0000f0" stroke-width="0.9"/><line x1="332.13" y1="462.69" x2="334.53" y2="462.69" stroke="#0000f0" stroke-width="0.9"/><path d="M333.33,452.99L336.13,458.39L330.53,458.39Z" fill="#0000f0"/><line x1="345.84" y1="433.25" x2="345.84" y2="446.43" stroke="#0000f0" stroke-width="1" /><line x1="344.64" y1="433.25" x2="347.04" y2="433.25" stroke="#0000f0" stroke-width="0.9"/><line x1="344.64" y1="446.43" x2="347.04" y2="446.43" stroke="#0000f0" stroke-width="0.9"/><path d="M345.84,436.40L348.64,441.80L343.04,441.80Z" fill="#0000f0"/><line x1="358.35" y1="449.73" x2="358.35" y2="463.53" stroke="#0000f0" stroke-width="1" /><line x1="357.15" y1="449.73" x2="359.55" y2="449.73" stroke="#0000f0" stroke-width="0.9"/><line x1="357.15" y1="463.53" x2="359.55" y2="463.53" stroke="#0000f0" stroke-width="0.9"/><path d="M358.35,453.16L361.15,458.56L355.55,458.56Z" fill="#0000f0"/><polyline points="58.11,309.05 70.62,318.48 83.13,341.82 95.64,357.56 108.15,372.91 120.66,394.19 133.17,398.68 145.68,404.07 158.19,414.46 170.70,415.00 183.21,418.59 195.72,417.49 208.23,429.97 220.74,430.35 233.25,422.45 245.76,419.71 258.27,422.57 270.78,430.35 283.29,427.85 295.80,446.35 308.31,458.61 320.82,452.35 333.33,461.10 345.84,453.50 358.35,452.35" fill="none" stroke="#1ea0c3" stroke-dasharray="4.2,1.9,0.8,1.9" stroke-width="1.1"/><path d="M58.11,312.25L60.91,306.85L55.31,306.85Z" fill="#1ea0c3"/><path d="M70.62,321.68L73.42,316.28L67.82,316.28Z" fill="#1ea0c3"/><path d="M83.13,345.02L85.93,339.62L80.33,339.62Z" fill="#1ea0c3"/><path d="M95.64,360.76L98.44,355.36L92.84,355.36Z" fill="#1ea0c3"/><path d="M108.15,376.11L110.95,370.71L105.35,370.71Z" fill="#1ea0c3"/><path d="M120.66,397.39L123.46,391.99L117.86,391.99Z" fill="#1ea0c3"/><path d="M133.17,401.88L135.97,396.48L130.37,396.48Z" fill="#1ea0c3"/><path d="M145.68,407.27L148.48,401.87L142.88,401.87Z" fill="#1ea0c3"/><path d="M158.19,417.66L160.99,412.26L155.39,412.26Z" fill="#1ea0c3"/><line x1="170.70" y1="412.74" x2="170.70" y2="417.31" stroke="#1ea0c3" stroke-width="1" /><line x1="169.50" y1="412.74" x2="171.90" y2="412.74" stroke="#1ea0c3" stroke-width="0.9"/><line x1="169.50" y1="417.31" x2="171.90" y2="417.31" stroke="#1ea0c3" stroke-width="0.9"/><path d="M170.70,418.20L173.50,412.80L167.90,412.80Z" fill="#1ea0c3"/><line x1="183.21" y1="416.04" x2="183.21" y2="421.22" stroke="#1ea0c3" stroke-width="1" /><line x1="182.01" y1="416.04" x2="184.41" y2="416.04" stroke="#1ea0c3" stroke-width="0.9"/><line x1="182.01" y1="421.22" x2="184.41" y2="421.22" stroke="#1ea0c3" stroke-width="0.9"/><path d="M183.21,421.79L186.01,416.39L180.41,416.39Z" fill="#1ea0c3"/><line x1="195.72" y1="414.64" x2="195.72" y2="420.43" stroke="#1ea0c3" stroke-width="1" /><line x1="194.52" y1="414.64" x2="196.92" y2="414.64" stroke="#1ea0c3" stroke-width="0.9"/><line x1="194.52" y1="420.43" x2="196.92" y2="420.43" stroke="#1ea0c3" stroke-width="0.9"/><path d="M195.72,420.69L198.52,415.29L192.92,415.29Z" fill="#1ea0c3"/><line x1="208.23" y1="426.83" x2="208.23" y2="433.23" stroke="#1ea0c3" stroke-width="1" /><line x1="207.03" y1="426.83" x2="209.43" y2="426.83" stroke="#1ea0c3" stroke-width="0.9"/><line x1="207.03" y1="433.23" x2="209.43" y2="433.23" stroke="#1ea0c3" stroke-width="0.9"/><path d="M208.23,433.17L211.03,427.77L205.43,427.77Z" fill="#1ea0c3"/><line x1="220.74" y1="426.91" x2="220.74" y2="433.93" stroke="#1ea0c3" stroke-width="1" /><line x1="219.54" y1="426.91" x2="221.94" y2="426.91" stroke="#1ea0c3" stroke-width="0.9"/><line x1="219.54" y1="433.93" x2="221.94" y2="433.93" stroke="#1ea0c3" stroke-width="0.9"/><path d="M220.74,433.55L223.54,428.15L217.94,428.15Z" fill="#1ea0c3"/><line x1="233.25" y1="418.72" x2="233.25" y2="426.36" stroke="#1ea0c3" stroke-width="1" /><line x1="232.05" y1="418.72" x2="234.45" y2="418.72" stroke="#1ea0c3" stroke-width="0.9"/><line x1="232.05" y1="426.36" x2="234.45" y2="426.36" stroke="#1ea0c3" stroke-width="0.9"/><path d="M233.25,425.65L236.05,420.25L230.45,420.25Z" fill="#1ea0c3"/><line x1="245.76" y1="415.68" x2="245.76" y2="423.93" stroke="#1ea0c3" stroke-width="1" /><line x1="244.56" y1="415.68" x2="246.96" y2="415.68" stroke="#1ea0c3" stroke-width="0.9"/><line x1="244.56" y1="423.93" x2="246.96" y2="423.93" stroke="#1ea0c3" stroke-width="0.9"/><path d="M245.76,422.91L248.56,417.51L242.96,417.51Z" fill="#1ea0c3"/><line x1="258.27" y1="418.25" x2="258.27" y2="427.12" stroke="#1ea0c3" stroke-width="1" /><line x1="257.07" y1="418.25" x2="259.47" y2="418.25" stroke="#1ea0c3" stroke-width="0.9"/><line x1="257.07" y1="427.12" x2="259.47" y2="427.12" stroke="#1ea0c3" stroke-width="0.9"/><path d="M258.27,425.77L261.07,420.37L255.47,420.37Z" fill="#1ea0c3"/><line x1="270.78" y1="425.74" x2="270.78" y2="435.22" stroke="#1ea0c3" stroke-width="1" /><line x1="269.58" y1="425.74" x2="271.98" y2="425.74" stroke="#1ea0c3" stroke-width="0.9"/><line x1="269.58" y1="435.22" x2="271.98" y2="435.22" stroke="#1ea0c3" stroke-width="0.9"/><path d="M270.78,433.55L273.58,428.15L267.98,428.15Z" fill="#1ea0c3"/><line x1="283.29" y1="422.94" x2="283.29" y2="433.04" stroke="#1ea0c3" stroke-width="1" /><line x1="282.09" y1="422.94" x2="284.49" y2="422.94" stroke="#1ea0c3" stroke-width="0.9"/><line x1="282.09" y1="433.04" x2="284.49" y2="433.04" stroke="#1ea0c3" stroke-width="0.9"/><path d="M283.29,431.05L286.09,425.65L280.49,425.65Z" fill="#1ea0c3"/><line x1="295.80" y1="441.15" x2="295.80" y2="451.87" stroke="#1ea0c3" stroke-width="1" /><line x1="294.60" y1="441.15" x2="297.00" y2="441.15" stroke="#1ea0c3" stroke-width="0.9"/><line x1="294.60" y1="451.87" x2="297.00" y2="451.87" stroke="#1ea0c3" stroke-width="0.9"/><path d="M295.80,449.55L298.60,444.15L293.00,444.15Z" fill="#1ea0c3"/><line x1="308.31" y1="453.12" x2="308.31" y2="464.46" stroke="#1ea0c3" stroke-width="1" /><line x1="307.11" y1="453.12" x2="309.51" y2="453.12" stroke="#1ea0c3" stroke-width="0.9"/><line x1="307.11" y1="464.46" x2="309.51" y2="464.46" stroke="#1ea0c3" stroke-width="0.9"/><path d="M308.31,461.81L311.11,456.41L305.51,456.41Z" fill="#1ea0c3"/><line x1="320.82" y1="446.57" x2="320.82" y2="458.52" stroke="#1ea0c3" stroke-width="1" /><line x1="319.62" y1="446.57" x2="322.02" y2="446.57" stroke="#1ea0c3" stroke-width="0.9"/><line x1="319.62" y1="458.52" x2="322.02" y2="458.52" stroke="#1ea0c3" stroke-width="0.9"/><path d="M320.82,455.55L323.62,450.15L318.02,450.15Z" fill="#1ea0c3"/><line x1="333.33" y1="455.04" x2="333.33" y2="467.61" stroke="#1ea0c3" stroke-width="1" /><line x1="332.13" y1="455.04" x2="334.53" y2="455.04" stroke="#1ea0c3" stroke-width="0.9"/><line x1="332.13" y1="467.61" x2="334.53" y2="467.61" stroke="#1ea0c3" stroke-width="0.9"/><path d="M333.33,464.30L336.13,458.90L330.53,458.90Z" fill="#1ea0c3"/><line x1="345.84" y1="447.15" x2="345.84" y2="460.34" stroke="#1ea0c3" stroke-width="1" /><line x1="344.64" y1="447.15" x2="347.04" y2="447.15" stroke="#1ea0c3" stroke-width="0.9"/><line x1="344.64" y1="460.34" x2="347.04" y2="460.34" stroke="#1ea0c3" stroke-width="0.9"/><path d="M345.84,456.70L348.64,451.30L343.04,451.30Z" fill="#1ea0c3"/><line x1="358.35" y1="445.72" x2="358.35" y2="459.52" stroke="#1ea0c3" stroke-width="1" /><line x1="357.15" y1="445.72" x2="359.55" y2="445.72" stroke="#1ea0c3" stroke-width="0.9"/><line x1="357.15" y1="459.52" x2="359.55" y2="459.52" stroke="#1ea0c3" stroke-width="0.9"/><path d="M358.35,455.55L361.15,450.15L355.55,450.15Z" fill="#1ea0c3"/><polyline points="58.11,172.11 70.62,231.99 83.13,316.37 95.64,363.41 108.15,405.69 120.66,441.89 133.17,441.89 145.68,438.75 158.19,430.86 170.70,411.75 183.21,407.24 195.72,392.03 208.23,392.03 220.74,385.16 233.25,381.08 245.76,374.58 258.27,381.08 270.78,382.02 283.29,379.92 295.80,382.98 308.31,405.02 320.82,405.69 333.33,415.00 345.84,390.40 358.35,402.21" fill="none" stroke="#ff0000" stroke-dasharray="0.9,0.9" stroke-width="1.1"/><path d="M58.11,168.81L60.61,172.11L58.11,175.41L55.61,172.11Z" fill="#ff0000"/><path d="M70.62,228.69L73.12,231.99L70.62,235.29L68.12,231.99Z" fill="#ff0000"/><path d="M83.13,313.07L85.63,316.37L83.13,319.67L80.63,316.37Z" fill="#ff0000"/><path d="M95.64,360.11L98.14,363.41L95.64,366.71L93.14,363.41Z" fill="#ff0000"/><path d="M108.15,402.39L110.65,405.69L108.15,408.99L105.65,405.69Z" fill="#ff0000"/><path d="M120.66,438.59L123.16,441.89L120.66,445.19L118.16,441.89Z" fill="#ff0000"/><path d="M133.17,438.59L135.67,441.89L133.17,445.19L130.67,441.89Z" fill="#ff0000"/><line x1="145.68" y1="436.67" x2="145.68" y2="440.88" stroke="#ff0000" stroke-width="1" stroke-dasharray="1,1"/><line x1="144.48" y1="436.67" x2="146.88" y2="436.67" stroke="#ff0000" stroke-width="0.9"/><line x1="144.48" y1="440.88" x2="146.88" y2="440.88" stroke="#ff0000" stroke-width="0.9"/><path d="M145.68,435.45L148.18,438.75L145.68,442.05L143.18,438.75Z" fill="#ff0000"/><line x1="158.19" y1="428.40" x2="158.19" y2="433.40" stroke="#ff0000" stroke-width="1" stroke-dasharray="1,1"/><line x1="156.99" y1="428.40" x2="159.39" y2="428.40" stroke="#ff0000" stroke-width="0.9"/><line x1="156.99" y1="433.40" x2="159.39" y2="433.40" stroke="#ff0000" stroke-width="0.9"/><path d="M158.19,427.56L160.69,430.86L158.19,434.16L155.69,430.86Z" fill="#ff0000"/><line x1="170.70" y1="408.90" x2="170.70" y2="414.69" stroke="#ff0000" stroke-width="1" stroke-dasharray="1,1"/><line x1="169.50" y1="408.90" x2="171.90" y2="408.90" stroke="#ff0000" stroke-width="0.9"/><line x1="169.50" y1="414.69" x2="171.90" y2="414.69" stroke="#ff0000" stroke-width="0.9"/><path d="M170.70,408.45L173.20,411.75L170.70,415.05L168.20,411.75Z" fill="#ff0000"/><line x1="183.21" y1="404.01" x2="183.21" y2="410.59" stroke="#ff0000" stroke-width="1" stroke-dasharray="1,1"/><line x1="182.01" y1="404.01" x2="184.41" y2="404.01" stroke="#ff0000" stroke-width="0.9"/><line x1="182.01" y1="410.59" x2="184.41" y2="410.59" stroke="#ff0000" stroke-width="0.9"/><path d="M183.21,403.94L185.71,407.24L183.21,410.54L180.71,407.24Z" fill="#ff0000"/><line x1="195.72" y1="388.42" x2="195.72" y2="395.79" stroke="#ff0000" stroke-width="1" stroke-dasharray="1,1"/><line x1="194.52" y1="388.42" x2="196.92" y2="388.42" stroke="#ff0000" stroke-width="0.9"/><line x1="194.52" y1="395.79" x2="196.92" y2="395.79" stroke="#ff0000" stroke-width="0.9"/><path d="M195.72,388.73L198.22,392.03L195.72,395.33L193.22,392.03Z" fill="#ff0000"/><line x1="208.23" y1="388.04" x2="208.23" y2="396.21" stroke="#ff0000" stroke-width="1" stroke-dasharray="1,1"/><line x1="207.03" y1="388.04" x2="209.43" y2="388.04" stroke="#ff0000" stroke-width="0.9"/><line x1="207.03" y1="396.21" x2="209.43" y2="396.21" stroke="#ff0000" stroke-width="0.9"/><path d="M208.23,388.73L210.73,392.03L208.23,395.33L205.73,392.03Z" fill="#ff0000"/><line x1="220.74" y1="380.79" x2="220.74" y2="389.75" stroke="#ff0000" stroke-width="1" stroke-dasharray="1,1"/><line x1="219.54" y1="380.79" x2="221.94" y2="380.79" stroke="#ff0000" stroke-width="0.9"/><line x1="219.54" y1="389.75" x2="221.94" y2="389.75" stroke="#ff0000" stroke-width="0.9"/><path d="M220.74,381.86L223.24,385.16L220.74,388.46L218.24,385.16Z" fill="#ff0000"/><line x1="233.25" y1="376.34" x2="233.25" y2="386.09" stroke="#ff0000" stroke-width="1" stroke-dasharray="1,1"/><line x1="232.05" y1="376.34" x2="234.45" y2="376.34" stroke="#ff0000" stroke-width="0.9"/><line x1="232.05" y1="386.09" x2="234.45" y2="386.09" stroke="#ff0000" stroke-width="0.9"/><path d="M233.25,377.78L235.75,381.08L233.25,384.38L230.75,381.08Z" fill="#ff0000"/><line x1="245.76" y1="369.47" x2="245.76" y2="380.01" stroke="#ff0000" stroke-width="1" stroke-dasharray="1,1"/><line x1="244.56" y1="369.47" x2="246.96" y2="369.47" stroke="#ff0000" stroke-width="0.9"/><line x1="244.56" y1="380.01" x2="246.96" y2="380.01" stroke="#ff0000" stroke-width="0.9"/><path d="M245.76,371.28L248.26,374.58L245.76,377.88L243.26,374.58Z" fill="#ff0000"/><line x1="258.27" y1="375.59" x2="258.27" y2="386.93" stroke="#ff0000" stroke-width="1" stroke-dasharray="1,1"/><line x1="257.07" y1="375.59" x2="259.47" y2="375.59" stroke="#ff0000" stroke-width="0.9"/><line x1="257.07" y1="386.93" x2="259.47" y2="386.93" stroke="#ff0000" stroke-width="0.9"/><path d="M258.27,377.78L260.77,381.08L258.27,384.38L255.77,381.08Z" fill="#ff0000"/><line x1="270.78" y1="376.17" x2="270.78" y2="388.30" stroke="#ff0000" stroke-width="1" stroke-dasharray="1,1"/><line x1="269.58" y1="376.17" x2="271.98" y2="376.17" stroke="#ff0000" stroke-width="0.9"/><line x1="269.58" y1="388.30" x2="271.98" y2="388.30" stroke="#ff0000" stroke-width="0.9"/><path d="M270.78,378.72L273.28,382.02L270.78,385.32L268.28,382.02Z" fill="#ff0000"/><line x1="283.29" y1="373.70" x2="283.29" y2="386.62" stroke="#ff0000" stroke-width="1" stroke-dasharray="1,1"/><line x1="282.09" y1="373.70" x2="284.49" y2="373.70" stroke="#ff0000" stroke-width="0.9"/><line x1="282.09" y1="386.62" x2="284.49" y2="386.62" stroke="#ff0000" stroke-width="0.9"/><path d="M283.29,376.62L285.79,379.92L283.29,383.22L280.79,379.92Z" fill="#ff0000"/><line x1="295.80" y1="376.39" x2="295.80" y2="390.11" stroke="#ff0000" stroke-width="1" stroke-dasharray="1,1"/><line x1="294.60" y1="376.39" x2="297.00" y2="376.39" stroke="#ff0000" stroke-width="0.9"/><line x1="294.60" y1="390.11" x2="297.00" y2="390.11" stroke="#ff0000" stroke-width="0.9"/><path d="M295.80,379.68L298.30,382.98L295.80,386.28L293.30,382.98Z" fill="#ff0000"/><line x1="308.31" y1="398.07" x2="308.31" y2="412.57" stroke="#ff0000" stroke-width="1" stroke-dasharray="1,1"/><line x1="307.11" y1="398.07" x2="309.51" y2="398.07" stroke="#ff0000" stroke-width="0.9"/><line x1="307.11" y1="412.57" x2="309.51" y2="412.57" stroke="#ff0000" stroke-width="0.9"/><path d="M308.31,401.72L310.81,405.02L308.31,408.32L305.81,405.02Z" fill="#ff0000"/><line x1="320.82" y1="398.37" x2="320.82" y2="413.67" stroke="#ff0000" stroke-width="1" stroke-dasharray="1,1"/><line x1="319.62" y1="398.37" x2="322.02" y2="398.37" stroke="#ff0000" stroke-width="0.9"/><line x1="319.62" y1="413.67" x2="322.02" y2="413.67" stroke="#ff0000" stroke-width="0.9"/><path d="M320.82,402.39L323.32,405.69L320.82,408.99L318.32,405.69Z" fill="#ff0000"/><line x1="333.33" y1="407.32" x2="333.33" y2="423.41" stroke="#ff0000" stroke-width="1" stroke-dasharray="1,1"/><line x1="332.13" y1="407.32" x2="334.53" y2="407.32" stroke="#ff0000" stroke-width="0.9"/><line x1="332.13" y1="423.41" x2="334.53" y2="423.41" stroke="#ff0000" stroke-width="0.9"/><path d="M333.33,411.70L335.83,415.00L333.33,418.30L330.83,415.00Z" fill="#ff0000"/><line x1="345.84" y1="382.36" x2="345.84" y2="399.25" stroke="#ff0000" stroke-width="1" stroke-dasharray="1,1"/><line x1="344.64" y1="382.36" x2="347.04" y2="382.36" stroke="#ff0000" stroke-width="0.9"/><line x1="344.64" y1="399.25" x2="347.04" y2="399.25" stroke="#ff0000" stroke-width="0.9"/><path d="M345.84,387.10L348.34,390.40L345.84,393.70L343.34,390.40Z" fill="#ff0000"/><line x1="358.35" y1="393.81" x2="358.35" y2="411.50" stroke="#ff0000" stroke-width="1" stroke-dasharray="1,1"/><line x1="357.15" y1="393.81" x2="359.55" y2="393.81" stroke="#ff0000" stroke-width="0.9"/><line x1="357.15" y1="411.50" x2="359.55" y2="411.50" stroke="#ff0000" stroke-width="0.9"/><path d="M358.35,398.91L360.85,402.21L358.35,405.51L355.85,402.21Z" fill="#ff0000"/></g>
<text x="208.4" y="41.8" font-size="12" text-anchor="middle">Transverse region, 80 &lt; p<tspan font-size="9" dx="-1.2" dy="-6">Z</tspan><tspan font-size="9" dx="-6.6" dy="12">T</tspan><tspan dy="-6" dx="0.4"> &lt; 120 [GeV], high thrust</tspan></text>
<text x="208.00" y="301.40" font-size="8" text-anchor="middle" fill="#999" >(ATLAS_2019_I1736531)</text>
<text transform="translate(380.2,127) rotate(-90)" font-size="9.5" fill="#6a6a6a">Rivet 4.1.0, ≥ 700k events</text>
<text transform="translate(381,313.2) rotate(-90)" font-size="9.45" fill="#6a6a6a">mcplots.cern.ch [arXiv:2401.10621]</text>
<text transform="translate(15.2,167.2) rotate(-90)" font-size="12">1/N<tspan font-size="8" dy="3">ev</tspan><tspan dy="-3"> dN</tspan><tspan font-size="8" dy="3">ev</tspan><tspan dy="-3">/d mean p</tspan><tspan font-size="8" dy="6.7" dx="1.1">T</tspan><tspan dy="-6.7"> [GeV]</tspan><tspan font-size="7.5" dy="-5.5">−1</tspan></text>
<text transform="translate(18.5,426.5) rotate(-90)" font-size="9">Ratio to ATLAS</text>
<text x="289" y="501.3" font-size="12">Mean p<tspan font-size="8.5" dy="6.5" dx="0.3">T</tspan><tspan dy="-6.5" dx="0.2">/dη dϕ</tspan></text>
<g fill="none" stroke="#000" stroke-width="1.3">
<rect x="45.6" y="17.6" width="325.30" height="299.70"/>
<rect x="45.6" y="317.3" width="325.30" height="160.40"/>
</g>
<g><line x1="45.60" y1="17.60" x2="45.60" y2="20.60" stroke="#000" stroke-width="1.0"/><line x1="45.60" y1="317.30" x2="45.60" y2="314.30" stroke="#000" stroke-width="1.0"/><line x1="45.60" y1="317.30" x2="45.60" y2="319.30" stroke="#000" stroke-width="1.0"/><line x1="45.60" y1="477.70" x2="45.60" y2="475.70" stroke="#000" stroke-width="1.0"/><line x1="58.11" y1="17.60" x2="58.11" y2="20.60" stroke="#000" stroke-width="1.0"/><line x1="58.11" y1="317.30" x2="58.11" y2="314.30" stroke="#000" stroke-width="1.0"/><line x1="58.11" y1="317.30" x2="58.11" y2="319.30" stroke="#000" stroke-width="1.0"/><line x1="58.11" y1="477.70" x2="58.11" y2="475.70" stroke="#000" stroke-width="1.0"/><line x1="70.62" y1="17.60" x2="70.62" y2="20.60" stroke="#000" stroke-width="1.0"/><line x1="70.62" y1="317.30" x2="70.62" y2="314.30" stroke="#000" stroke-width="1.0"/><line x1="70.62" y1="317.30" x2="70.62" y2="319.30" stroke="#000" stroke-width="1.0"/><line x1="70.62" y1="477.70" x2="70.62" y2="475.70" stroke="#000" stroke-width="1.0"/><line x1="83.13" y1="17.60" x2="83.13" y2="20.60" stroke="#000" stroke-width="1.0"/><line x1="83.13" y1="317.30" x2="83.13" y2="314.30" stroke="#000" stroke-width="1.0"/><line x1="83.13" y1="317.30" x2="83.13" y2="319.30" stroke="#000" stroke-width="1.0"/><line x1="83.13" y1="477.70" x2="83.13" y2="475.70" stroke="#000" stroke-width="1.0"/><line x1="95.64" y1="17.60" x2="95.64" y2="20.60" stroke="#000" stroke-width="1.0"/><line x1="95.64" y1="317.30" x2="95.64" y2="314.30" stroke="#000" stroke-width="1.0"/><line x1="95.64" y1="317.30" x2="95.64" y2="319.30" stroke="#000" stroke-width="1.0"/><line x1="95.64" y1="477.70" x2="95.64" y2="475.70" stroke="#000" stroke-width="1.0"/><line x1="108.15" y1="17.60" x2="108.15" y2="20.60" stroke="#000" stroke-width="1.0"/><line x1="108.15" y1="317.30" x2="108.15" y2="314.30" stroke="#000" stroke-width="1.0"/><line x1="108.15" y1="317.30" x2="108.15" y2="319.30" stroke="#000" stroke-width="1.0"/><line x1="108.15" y1="477.70" x2="108.15" y2="475.70" stroke="#000" stroke-width="1.0"/><line x1="120.66" y1="17.60" x2="120.66" y2="25.60" stroke="#000" stroke-width="1.0"/><line x1="120.66" y1="317.30" x2="120.66" y2="309.30" stroke="#000" stroke-width="1.0"/><line x1="120.66" y1="317.30" x2="120.66" y2="322.30" stroke="#000" stroke-width="1.0"/><line x1="120.66" y1="477.70" x2="120.66" y2="472.70" stroke="#000" stroke-width="1.0"/><line x1="133.17" y1="17.60" x2="133.17" y2="20.60" stroke="#000" stroke-width="1.0"/><line x1="133.17" y1="317.30" x2="133.17" y2="314.30" stroke="#000" stroke-width="1.0"/><line x1="133.17" y1="317.30" x2="133.17" y2="319.30" stroke="#000" stroke-width="1.0"/><line x1="133.17" y1="477.70" x2="133.17" y2="475.70" stroke="#000" stroke-width="1.0"/><line x1="145.68" y1="17.60" x2="145.68" y2="20.60" stroke="#000" stroke-width="1.0"/><line x1="145.68" y1="317.30" x2="145.68" y2="314.30" stroke="#000" stroke-width="1.0"/><line x1="145.68" y1="317.30" x2="145.68" y2="319.30" stroke="#000" stroke-width="1.0"/><line x1="145.68" y1="477.70" x2="145.68" y2="475.70" stroke="#000" stroke-width="1.0"/><line x1="158.19" y1="17.60" x2="158.19" y2="20.60" stroke="#000" stroke-width="1.0"/><line x1="158.19" y1="317.30" x2="158.19" y2="314.30" stroke="#000" stroke-width="1.0"/><line x1="158.19" y1="317.30" x2="158.19" y2="319.30" stroke="#000" stroke-width="1.0"/><line x1="158.19" y1="477.70" x2="158.19" y2="475.70" stroke="#000" stroke-width="1.0"/><line x1="170.70" y1="17.60" x2="170.70" y2="20.60" stroke="#000" stroke-width="1.0"/><line x1="170.70" y1="317.30" x2="170.70" y2="314.30" stroke="#000" stroke-width="1.0"/><line x1="170.70" y1="317.30" x2="170.70" y2="319.30" stroke="#000" stroke-width="1.0"/><line x1="170.70" y1="477.70" x2="170.70" y2="475.70" stroke="#000" stroke-width="1.0"/><line x1="183.21" y1="17.60" x2="183.21" y2="20.60" stroke="#000" stroke-width="1.0"/><line x1="183.21" y1="317.30" x2="183.21" y2="314.30" stroke="#000" stroke-width="1.0"/><line x1="183.21" y1="317.30" x2="183.21" y2="319.30" stroke="#000" stroke-width="1.0"/><line x1="183.21" y1="477.70" x2="183.21" y2="475.70" stroke="#000" stroke-width="1.0"/><line x1="195.72" y1="17.60" x2="195.72" y2="20.60" stroke="#000" stroke-width="1.0"/><line x1="195.72" y1="317.30" x2="195.72" y2="314.30" stroke="#000" stroke-width="1.0"/><line x1="195.72" y1="317.30" x2="195.72" y2="319.30" stroke="#000" stroke-width="1.0"/><line x1="195.72" y1="477.70" x2="195.72" y2="475.70" stroke="#000" stroke-width="1.0"/><line x1="208.23" y1="17.60" x2="208.23" y2="20.60" stroke="#000" stroke-width="1.0"/><line x1="208.23" y1="317.30" x2="208.23" y2="314.30" stroke="#000" stroke-width="1.0"/><line x1="208.23" y1="317.30" x2="208.23" y2="319.30" stroke="#000" stroke-width="1.0"/><line x1="208.23" y1="477.70" x2="208.23" y2="475.70" stroke="#000" stroke-width="1.0"/><line x1="220.74" y1="17.60" x2="220.74" y2="20.60" stroke="#000" stroke-width="1.0"/><line x1="220.74" y1="317.30" x2="220.74" y2="314.30" stroke="#000" stroke-width="1.0"/><line x1="220.74" y1="317.30" x2="220.74" y2="319.30" stroke="#000" stroke-width="1.0"/><line x1="220.74" y1="477.70" x2="220.74" y2="475.70" stroke="#000" stroke-width="1.0"/><line x1="233.25" y1="17.60" x2="233.25" y2="20.60" stroke="#000" stroke-width="1.0"/><line x1="233.25" y1="317.30" x2="233.25" y2="314.30" stroke="#000" stroke-width="1.0"/><line x1="233.25" y1="317.30" x2="233.25" y2="319.30" stroke="#000" stroke-width="1.0"/><line x1="233.25" y1="477.70" x2="233.25" y2="475.70" stroke="#000" stroke-width="1.0"/><line x1="245.76" y1="17.60" x2="245.76" y2="25.60" stroke="#000" stroke-width="1.0"/><line x1="245.76" y1="317.30" x2="245.76" y2="309.30" stroke="#000" stroke-width="1.0"/><line x1="245.76" y1="317.30" x2="245.76" y2="322.30" stroke="#000" stroke-width="1.0"/><line x1="245.76" y1="477.70" x2="245.76" y2="472.70" stroke="#000" stroke-width="1.0"/><line x1="258.27" y1="17.60" x2="258.27" y2="20.60" stroke="#000" stroke-width="1.0"/><line x1="258.27" y1="317.30" x2="258.27" y2="314.30" stroke="#000" stroke-width="1.0"/><line x1="258.27" y1="317.30" x2="258.27" y2="319.30" stroke="#000" stroke-width="1.0"/><line x1="258.27" y1="477.70" x2="258.27" y2="475.70" stroke="#000" stroke-width="1.0"/><line x1="270.78" y1="17.60" x2="270.78" y2="20.60" stroke="#000" stroke-width="1.0"/><line x1="270.78" y1="317.30" x2="270.78" y2="314.30" stroke="#000" stroke-width="1.0"/><line x1="270.78" y1="317.30" x2="270.78" y2="319.30" stroke="#000" stroke-width="1.0"/><line x1="270.78" y1="477.70" x2="270.78" y2="475.70" stroke="#000" stroke-width="1.0"/><line x1="283.29" y1="17.60" x2="283.29" y2="20.60" stroke="#000" stroke-width="1.0"/><line x1="283.29" y1="317.30" x2="283.29" y2="314.30" stroke="#000" stroke-width="1.0"/><line x1="283.29" y1="317.30" x2="283.29" y2="319.30" stroke="#000" stroke-width="1.0"/><line x1="283.29" y1="477.70" x2="283.29" y2="475.70" stroke="#000" stroke-width="1.0"/><line x1="295.80" y1="17.60" x2="295.80" y2="20.60" stroke="#000" stroke-width="1.0"/><line x1="295.80" y1="317.30" x2="295.80" y2="314.30" stroke="#000" stroke-width="1.0"/><line x1="295.80" y1="317.30" x2="295.80" y2="319.30" stroke="#000" stroke-width="1.0"/><line x1="295.80" y1="477.70" x2="295.80" y2="475.70" stroke="#000" stroke-width="1.0"/><line x1="308.31" y1="17.60" x2="308.31" y2="20.60" stroke="#000" stroke-width="1.0"/><line x1="308.31" y1="317.30" x2="308.31" y2="314.30" stroke="#000" stroke-width="1.0"/><line x1="308.31" y1="317.30" x2="308.31" y2="319.30" stroke="#000" stroke-width="1.0"/><line x1="308.31" y1="477.70" x2="308.31" y2="475.70" stroke="#000" stroke-width="1.0"/><line x1="320.82" y1="17.60" x2="320.82" y2="20.60" stroke="#000" stroke-width="1.0"/><line x1="320.82" y1="317.30" x2="320.82" y2="314.30" stroke="#000" stroke-width="1.0"/><line x1="320.82" y1="317.30" x2="320.82" y2="319.30" stroke="#000" stroke-width="1.0"/><line x1="320.82" y1="477.70" x2="320.82" y2="475.70" stroke="#000" stroke-width="1.0"/><line x1="333.33" y1="17.60" x2="333.33" y2="20.60" stroke="#000" stroke-width="1.0"/><line x1="333.33" y1="317.30" x2="333.33" y2="314.30" stroke="#000" stroke-width="1.0"/><line x1="333.33" y1="317.30" x2="333.33" y2="319.30" stroke="#000" stroke-width="1.0"/><line x1="333.33" y1="477.70" x2="333.33" y2="475.70" stroke="#000" stroke-width="1.0"/><line x1="345.84" y1="17.60" x2="345.84" y2="20.60" stroke="#000" stroke-width="1.0"/><line x1="345.84" y1="317.30" x2="345.84" y2="314.30" stroke="#000" stroke-width="1.0"/><line x1="345.84" y1="317.30" x2="345.84" y2="319.30" stroke="#000" stroke-width="1.0"/><line x1="345.84" y1="477.70" x2="345.84" y2="475.70" stroke="#000" stroke-width="1.0"/><line x1="358.35" y1="17.60" x2="358.35" y2="20.60" stroke="#000" stroke-width="1.0"/><line x1="358.35" y1="317.30" x2="358.35" y2="314.30" stroke="#000" stroke-width="1.0"/><line x1="358.35" y1="317.30" x2="358.35" y2="319.30" stroke="#000" stroke-width="1.0"/><line x1="358.35" y1="477.70" x2="358.35" y2="475.70" stroke="#000" stroke-width="1.0"/><line x1="370.86" y1="17.60" x2="370.86" y2="25.60" stroke="#000" stroke-width="1.0"/><line x1="370.86" y1="317.30" x2="370.86" y2="309.30" stroke="#000" stroke-width="1.0"/><line x1="370.86" y1="317.30" x2="370.86" y2="322.30" stroke="#000" stroke-width="1.0"/><line x1="370.86" y1="477.70" x2="370.86" y2="472.70" stroke="#000" stroke-width="1.0"/><line x1="45.60" y1="308.53" x2="51.10" y2="308.53" stroke="#000" stroke-width="1.0"/><line x1="370.90" y1="308.53" x2="365.40" y2="308.53" stroke="#000" stroke-width="1.0"/><line x1="45.60" y1="299.36" x2="51.10" y2="299.36" stroke="#000" stroke-width="1.0"/><line x1="370.90" y1="299.36" x2="365.40" y2="299.36" stroke="#000" stroke-width="1.0"/><line x1="45.60" y1="292.25" x2="51.10" y2="292.25" stroke="#000" stroke-width="1.0"/><line x1="370.90" y1="292.25" x2="365.40" y2="292.25" stroke="#000" stroke-width="1.0"/><line x1="45.60" y1="286.43" x2="51.10" y2="286.43" stroke="#000" stroke-width="1.0"/><line x1="370.90" y1="286.43" x2="365.40" y2="286.43" stroke="#000" stroke-width="1.0"/><line x1="45.60" y1="281.52" x2="51.10" y2="281.52" stroke="#000" stroke-width="1.0"/><line x1="370.90" y1="281.52" x2="365.40" y2="281.52" stroke="#000" stroke-width="1.0"/><line x1="45.60" y1="277.26" x2="51.10" y2="277.26" stroke="#000" stroke-width="1.0"/><line x1="370.90" y1="277.26" x2="365.40" y2="277.26" stroke="#000" stroke-width="1.0"/><line x1="45.60" y1="273.51" x2="51.10" y2="273.51" stroke="#000" stroke-width="1.0"/><line x1="370.90" y1="273.51" x2="365.40" y2="273.51" stroke="#000" stroke-width="1.0"/><line x1="45.60" y1="270.15" x2="56.60" y2="270.15" stroke="#000" stroke-width="1.0"/><line x1="370.90" y1="270.15" x2="359.90" y2="270.15" stroke="#000" stroke-width="1.0"/><line x1="45.60" y1="248.05" x2="51.10" y2="248.05" stroke="#000" stroke-width="1.0"/><line x1="370.90" y1="248.05" x2="365.40" y2="248.05" stroke="#000" stroke-width="1.0"/><line x1="45.60" y1="235.13" x2="51.10" y2="235.13" stroke="#000" stroke-width="1.0"/><line x1="370.90" y1="235.13" x2="365.40" y2="235.13" stroke="#000" stroke-width="1.0"/><line x1="45.60" y1="225.96" x2="51.10" y2="225.96" stroke="#000" stroke-width="1.0"/><line x1="370.90" y1="225.96" x2="365.40" y2="225.96" stroke="#000" stroke-width="1.0"/><line x1="45.60" y1="218.85" x2="51.10" y2="218.85" stroke="#000" stroke-width="1.0"/><line x1="370.90" y1="218.85" x2="365.40" y2="218.85" stroke="#000" stroke-width="1.0"/><line x1="45.60" y1="213.03" x2="51.10" y2="213.03" stroke="#000" stroke-width="1.0"/><line x1="370.90" y1="213.03" x2="365.40" y2="213.03" stroke="#000" stroke-width="1.0"/><line x1="45.60" y1="208.12" x2="51.10" y2="208.12" stroke="#000" stroke-width="1.0"/><line x1="370.90" y1="208.12" x2="365.40" y2="208.12" stroke="#000" stroke-width="1.0"/><line x1="45.60" y1="203.86" x2="51.10" y2="203.86" stroke="#000" stroke-width="1.0"/><line x1="370.90" y1="203.86" x2="365.40" y2="203.86" stroke="#000" stroke-width="1.0"/><line x1="45.60" y1="200.11" x2="51.10" y2="200.11" stroke="#000" stroke-width="1.0"/><line x1="370.90" y1="200.11" x2="365.40" y2="200.11" stroke="#000" stroke-width="1.0"/><line x1="45.60" y1="196.75" x2="56.60" y2="196.75" stroke="#000" stroke-width="1.0"/><line x1="370.90" y1="196.75" x2="359.90" y2="196.75" stroke="#000" stroke-width="1.0"/><line x1="45.60" y1="174.65" x2="51.10" y2="174.65" stroke="#000" stroke-width="1.0"/><line x1="370.90" y1="174.65" x2="365.40" y2="174.65" stroke="#000" stroke-width="1.0"/><line x1="45.60" y1="161.73" x2="51.10" y2="161.73" stroke="#000" stroke-width="1.0"/><line x1="370.90" y1="161.73" x2="365.40" y2="161.73" stroke="#000" stroke-width="1.0"/><line x1="45.60" y1="152.56" x2="51.10" y2="152.56" stroke="#000" stroke-width="1.0"/><line x1="370.90" y1="152.56" x2="365.40" y2="152.56" stroke="#000" stroke-width="1.0"/><line x1="45.60" y1="145.45" x2="51.10" y2="145.45" stroke="#000" stroke-width="1.0"/><line x1="370.90" y1="145.45" x2="365.40" y2="145.45" stroke="#000" stroke-width="1.0"/><line x1="45.60" y1="139.63" x2="51.10" y2="139.63" stroke="#000" stroke-width="1.0"/><line x1="370.90" y1="139.63" x2="365.40" y2="139.63" stroke="#000" stroke-width="1.0"/><line x1="45.60" y1="134.72" x2="51.10" y2="134.72" stroke="#000" stroke-width="1.0"/><line x1="370.90" y1="134.72" x2="365.40" y2="134.72" stroke="#000" stroke-width="1.0"/><line x1="45.60" y1="130.46" x2="51.10" y2="130.46" stroke="#000" stroke-width="1.0"/><line x1="370.90" y1="130.46" x2="365.40" y2="130.46" stroke="#000" stroke-width="1.0"/><line x1="45.60" y1="126.71" x2="51.10" y2="126.71" stroke="#000" stroke-width="1.0"/><line x1="370.90" y1="126.71" x2="365.40" y2="126.71" stroke="#000" stroke-width="1.0"/><line x1="45.60" y1="123.35" x2="56.60" y2="123.35" stroke="#000" stroke-width="1.0"/><line x1="370.90" y1="123.35" x2="359.90" y2="123.35" stroke="#000" stroke-width="1.0"/><line x1="45.60" y1="101.25" x2="51.10" y2="101.25" stroke="#000" stroke-width="1.0"/><line x1="370.90" y1="101.25" x2="365.40" y2="101.25" stroke="#000" stroke-width="1.0"/><line x1="45.60" y1="88.33" x2="51.10" y2="88.33" stroke="#000" stroke-width="1.0"/><line x1="370.90" y1="88.33" x2="365.40" y2="88.33" stroke="#000" stroke-width="1.0"/><line x1="45.60" y1="79.16" x2="51.10" y2="79.16" stroke="#000" stroke-width="1.0"/><line x1="370.90" y1="79.16" x2="365.40" y2="79.16" stroke="#000" stroke-width="1.0"/><line x1="45.60" y1="72.05" x2="51.10" y2="72.05" stroke="#000" stroke-width="1.0"/><line x1="370.90" y1="72.05" x2="365.40" y2="72.05" stroke="#000" stroke-width="1.0"/><line x1="45.60" y1="66.23" x2="51.10" y2="66.23" stroke="#000" stroke-width="1.0"/><line x1="370.90" y1="66.23" x2="365.40" y2="66.23" stroke="#000" stroke-width="1.0"/><line x1="45.60" y1="61.32" x2="51.10" y2="61.32" stroke="#000" stroke-width="1.0"/><line x1="370.90" y1="61.32" x2="365.40" y2="61.32" stroke="#000" stroke-width="1.0"/><line x1="45.60" y1="57.06" x2="51.10" y2="57.06" stroke="#000" stroke-width="1.0"/><line x1="370.90" y1="57.06" x2="365.40" y2="57.06" stroke="#000" stroke-width="1.0"/><line x1="45.60" y1="53.31" x2="51.10" y2="53.31" stroke="#000" stroke-width="1.0"/><line x1="370.90" y1="53.31" x2="365.40" y2="53.31" stroke="#000" stroke-width="1.0"/><line x1="45.60" y1="49.95" x2="56.60" y2="49.95" stroke="#000" stroke-width="1.0"/><line x1="370.90" y1="49.95" x2="359.90" y2="49.95" stroke="#000" stroke-width="1.0"/><line x1="45.60" y1="27.85" x2="51.10" y2="27.85" stroke="#000" stroke-width="1.0"/><line x1="370.90" y1="27.85" x2="365.40" y2="27.85" stroke="#000" stroke-width="1.0"/><line x1="45.60" y1="458.61" x2="52.60" y2="458.61" stroke="#000" stroke-width="1.0"/><line x1="370.90" y1="458.61" x2="363.90" y2="458.61" stroke="#000" stroke-width="1.0"/><line x1="45.60" y1="442.61" x2="50.60" y2="442.61" stroke="#000" stroke-width="1.0"/><line x1="370.90" y1="442.61" x2="365.90" y2="442.61" stroke="#000" stroke-width="1.0"/><line x1="45.60" y1="429.09" x2="50.60" y2="429.09" stroke="#000" stroke-width="1.0"/><line x1="370.90" y1="429.09" x2="365.90" y2="429.09" stroke="#000" stroke-width="1.0"/><line x1="45.60" y1="417.38" x2="50.60" y2="417.38" stroke="#000" stroke-width="1.0"/><line x1="370.90" y1="417.38" x2="365.90" y2="417.38" stroke="#000" stroke-width="1.0"/><line x1="45.60" y1="407.04" x2="50.60" y2="407.04" stroke="#000" stroke-width="1.0"/><line x1="370.90" y1="407.04" x2="365.90" y2="407.04" stroke="#000" stroke-width="1.0"/><line x1="45.60" y1="397.80" x2="52.60" y2="397.80" stroke="#000" stroke-width="1.0"/><line x1="370.90" y1="397.80" x2="363.90" y2="397.80" stroke="#000" stroke-width="1.0"/><line x1="45.60" y1="389.44" x2="50.60" y2="389.44" stroke="#000" stroke-width="1.0"/><line x1="370.90" y1="389.44" x2="365.90" y2="389.44" stroke="#000" stroke-width="1.0"/><line x1="45.60" y1="381.81" x2="50.60" y2="381.81" stroke="#000" stroke-width="1.0"/><line x1="370.90" y1="381.81" x2="365.90" y2="381.81" stroke="#000" stroke-width="1.0"/><line x1="45.60" y1="374.78" x2="50.60" y2="374.78" stroke="#000" stroke-width="1.0"/><line x1="370.90" y1="374.78" x2="365.90" y2="374.78" stroke="#000" stroke-width="1.0"/><line x1="45.60" y1="368.28" x2="50.60" y2="368.28" stroke="#000" stroke-width="1.0"/><line x1="370.90" y1="368.28" x2="365.90" y2="368.28" stroke="#000" stroke-width="1.0"/><line x1="45.60" y1="362.23" x2="52.60" y2="362.23" stroke="#000" stroke-width="1.0"/><line x1="370.90" y1="362.23" x2="363.90" y2="362.23" stroke="#000" stroke-width="1.0"/><line x1="45.60" y1="356.57" x2="50.60" y2="356.57" stroke="#000" stroke-width="1.0"/><line x1="370.90" y1="356.57" x2="365.90" y2="356.57" stroke="#000" stroke-width="1.0"/><line x1="45.60" y1="351.25" x2="50.60" y2="351.25" stroke="#000" stroke-width="1.0"/><line x1="370.90" y1="351.25" x2="365.90" y2="351.25" stroke="#000" stroke-width="1.0"/><line x1="45.60" y1="346.23" x2="50.60" y2="346.23" stroke="#000" stroke-width="1.0"/><line x1="370.90" y1="346.23" x2="365.90" y2="346.23" stroke="#000" stroke-width="1.0"/><line x1="45.60" y1="341.49" x2="50.60" y2="341.49" stroke="#000" stroke-width="1.0"/><line x1="370.90" y1="341.49" x2="365.90" y2="341.49" stroke="#000" stroke-width="1.0"/><line x1="45.60" y1="336.99" x2="52.60" y2="336.99" stroke="#000" stroke-width="1.0"/><line x1="370.90" y1="336.99" x2="363.90" y2="336.99" stroke="#000" stroke-width="1.0"/><line x1="45.60" y1="332.71" x2="50.60" y2="332.71" stroke="#000" stroke-width="1.0"/><line x1="370.90" y1="332.71" x2="365.90" y2="332.71" stroke="#000" stroke-width="1.0"/><line x1="45.60" y1="328.63" x2="50.60" y2="328.63" stroke="#000" stroke-width="1.0"/><line x1="370.90" y1="328.63" x2="365.90" y2="328.63" stroke="#000" stroke-width="1.0"/><line x1="45.60" y1="324.73" x2="50.60" y2="324.73" stroke="#000" stroke-width="1.0"/><line x1="370.90" y1="324.73" x2="365.90" y2="324.73" stroke="#000" stroke-width="1.0"/><line x1="45.60" y1="321.00" x2="50.60" y2="321.00" stroke="#000" stroke-width="1.0"/><line x1="370.90" y1="321.00" x2="365.90" y2="321.00" stroke="#000" stroke-width="1.0"/></g>
</svg></body></html>
